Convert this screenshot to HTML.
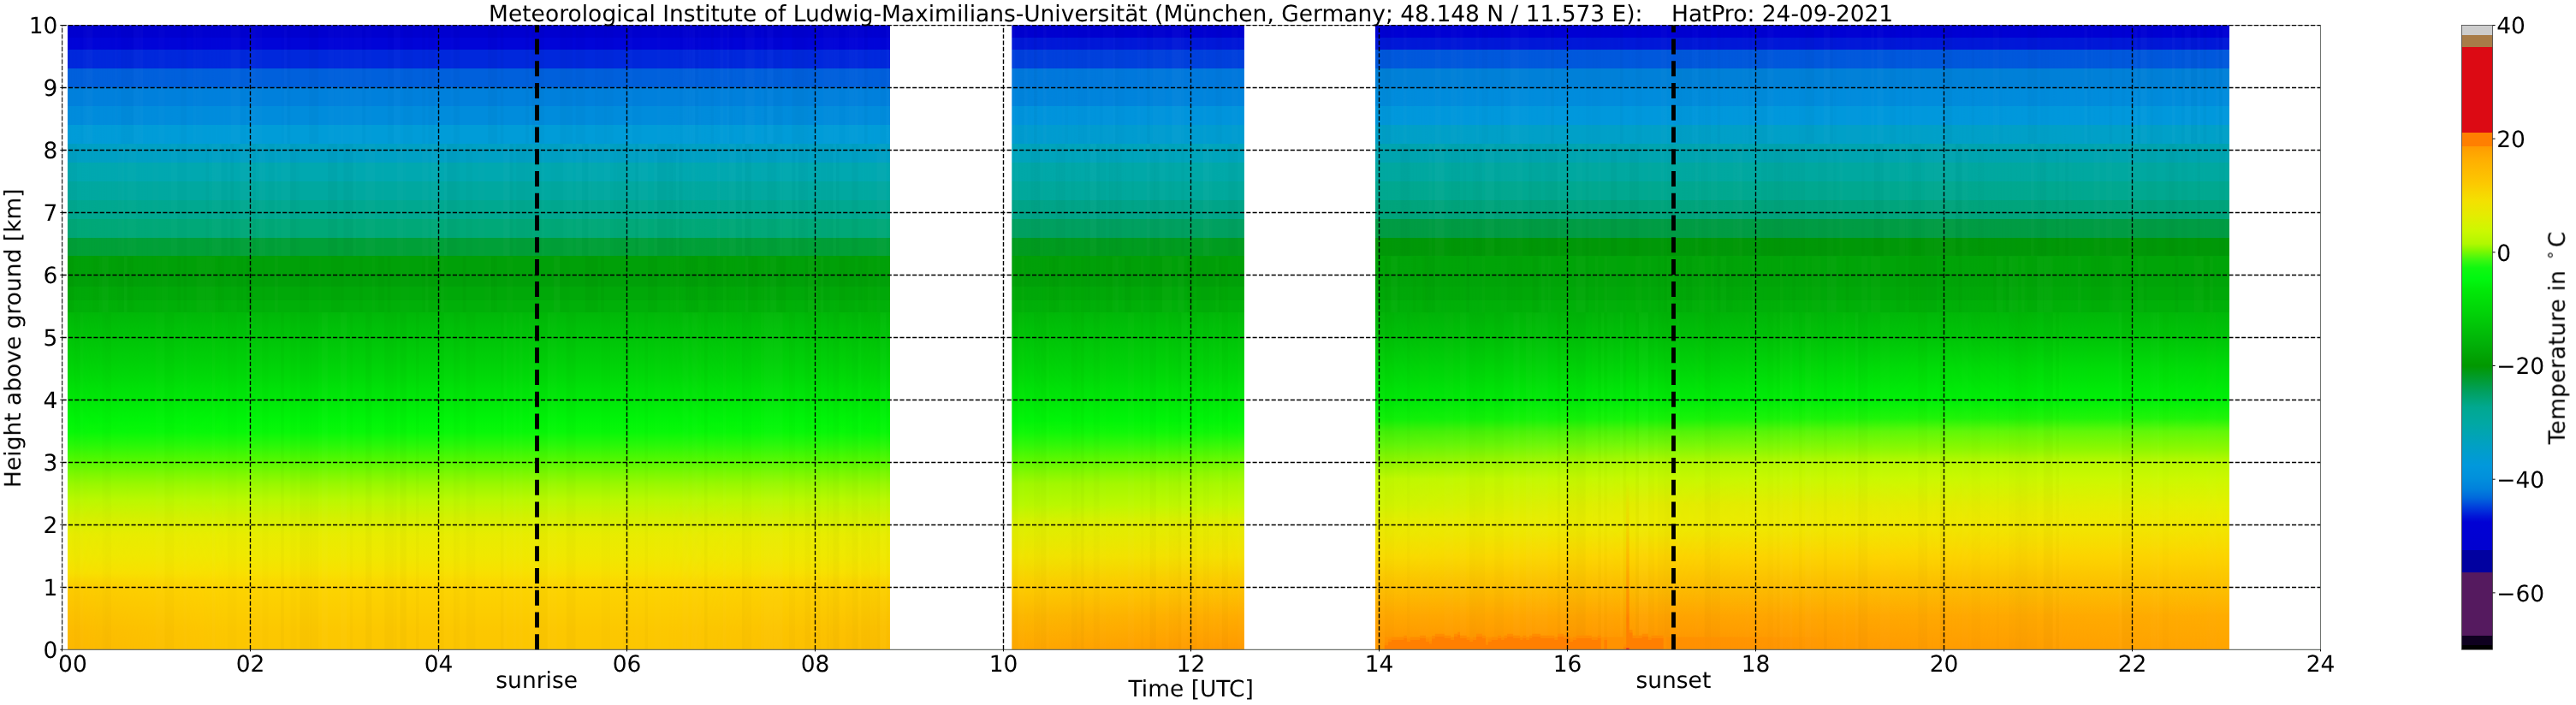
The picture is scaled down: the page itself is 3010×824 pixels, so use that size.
<!DOCTYPE html>
<html lang="en"><head><meta charset="utf-8"><title>HatPro temperature 24-09-2021</title>
<style>html,body{margin:0;padding:0;background:#fff}svg{display:block}text{fill:#000;white-space:pre;text-rendering:geometricPrecision}.tx{opacity:0.999}</style></head>
<body><svg width="3010" height="824" viewBox="0 0 3010 824">
<defs><linearGradient id="pA" gradientUnits="userSpaceOnUse" x1="0" y1="29.5" x2="0" y2="759.2"><stop offset="0.0000" stop-color="#0000d0"/><stop offset="0.0193" stop-color="#0000d0"/><stop offset="0.0193" stop-color="#0004d8"/><stop offset="0.0386" stop-color="#0004d8"/><stop offset="0.0386" stop-color="#0028dc"/><stop offset="0.0690" stop-color="#0028dc"/><stop offset="0.0690" stop-color="#0060dc"/><stop offset="0.1000" stop-color="#0060dc"/><stop offset="0.1000" stop-color="#0080dc"/><stop offset="0.1300" stop-color="#0080dc"/><stop offset="0.1300" stop-color="#008cdc"/><stop offset="0.1600" stop-color="#008cdc"/><stop offset="0.1600" stop-color="#009cd8"/><stop offset="0.1900" stop-color="#009cd8"/><stop offset="0.1900" stop-color="#00a0c4"/><stop offset="0.2200" stop-color="#00a0c4"/><stop offset="0.2200" stop-color="#00a8b0"/><stop offset="0.2500" stop-color="#00a8b0"/><stop offset="0.2500" stop-color="#00a8a0"/><stop offset="0.2800" stop-color="#00a8a0"/><stop offset="0.2800" stop-color="#00a890"/><stop offset="0.3100" stop-color="#00a890"/><stop offset="0.3100" stop-color="#00a878"/><stop offset="0.3400" stop-color="#00a878"/><stop offset="0.3400" stop-color="#00a038"/><stop offset="0.3700" stop-color="#00a038"/><stop offset="0.3700" stop-color="#00a008"/><stop offset="0.4190" stop-color="#00a008"/><stop offset="0.4190" stop-color="#00a808"/><stop offset="0.4400" stop-color="#00a808"/><stop offset="0.4400" stop-color="#00b008"/><stop offset="0.4600" stop-color="#00b008"/><stop offset="0.4602" stop-color="#00b808"/><stop offset="0.4995" stop-color="#00c408"/><stop offset="0.5489" stop-color="#00d408"/><stop offset="0.5996" stop-color="#00e808"/><stop offset="0.6311" stop-color="#00f408"/><stop offset="0.6516" stop-color="#08f808"/><stop offset="0.6722" stop-color="#28f808"/><stop offset="0.6996" stop-color="#58f800"/><stop offset="0.7160" stop-color="#78f800"/><stop offset="0.7339" stop-color="#98f800"/><stop offset="0.7613" stop-color="#bcf800"/><stop offset="0.7887" stop-color="#d4f000"/><stop offset="0.7996" stop-color="#dcf000"/><stop offset="0.8161" stop-color="#e8ec00"/><stop offset="0.8503" stop-color="#f0e800"/><stop offset="0.8778" stop-color="#f8e000"/><stop offset="0.8997" stop-color="#fcd400"/><stop offset="0.9326" stop-color="#fcce00"/><stop offset="0.9668" stop-color="#fcc800"/><stop offset="1.0000" stop-color="#fcc600"/></linearGradient><linearGradient id="pA0" gradientUnits="userSpaceOnUse" x1="0" y1="29.5" x2="0" y2="759.2"><stop offset="0.0000" stop-color="#0000d0"/><stop offset="0.0193" stop-color="#0000d0"/><stop offset="0.0193" stop-color="#0004d8"/><stop offset="0.0386" stop-color="#0004d8"/><stop offset="0.0386" stop-color="#0028dc"/><stop offset="0.0690" stop-color="#0028dc"/><stop offset="0.0690" stop-color="#0060dc"/><stop offset="0.1000" stop-color="#0060dc"/><stop offset="0.1000" stop-color="#0080dc"/><stop offset="0.1300" stop-color="#0080dc"/><stop offset="0.1300" stop-color="#008cdc"/><stop offset="0.1600" stop-color="#008cdc"/><stop offset="0.1600" stop-color="#009cd8"/><stop offset="0.1900" stop-color="#009cd8"/><stop offset="0.1900" stop-color="#00a0c4"/><stop offset="0.2200" stop-color="#00a0c4"/><stop offset="0.2200" stop-color="#00a8b0"/><stop offset="0.2500" stop-color="#00a8b0"/><stop offset="0.2500" stop-color="#00a8a0"/><stop offset="0.2800" stop-color="#00a8a0"/><stop offset="0.2800" stop-color="#00a890"/><stop offset="0.3100" stop-color="#00a890"/><stop offset="0.3100" stop-color="#00a878"/><stop offset="0.3400" stop-color="#00a878"/><stop offset="0.3400" stop-color="#00a038"/><stop offset="0.3700" stop-color="#00a038"/><stop offset="0.3700" stop-color="#00a008"/><stop offset="0.4190" stop-color="#00a008"/><stop offset="0.4190" stop-color="#00a808"/><stop offset="0.4400" stop-color="#00a808"/><stop offset="0.4400" stop-color="#00b008"/><stop offset="0.4600" stop-color="#00b008"/><stop offset="0.4602" stop-color="#00b808"/><stop offset="0.4995" stop-color="#00c408"/><stop offset="0.5489" stop-color="#00d408"/><stop offset="0.5996" stop-color="#00e808"/><stop offset="0.6311" stop-color="#00f408"/><stop offset="0.6516" stop-color="#08f808"/><stop offset="0.6722" stop-color="#28f808"/><stop offset="0.6996" stop-color="#58f800"/><stop offset="0.7160" stop-color="#78f800"/><stop offset="0.7339" stop-color="#98f800"/><stop offset="0.7613" stop-color="#bcf800"/><stop offset="0.7887" stop-color="#d4f000"/><stop offset="0.7996" stop-color="#dcf000"/><stop offset="0.8161" stop-color="#e8ec00"/><stop offset="0.8503" stop-color="#f0e800"/><stop offset="0.8778" stop-color="#f8e000"/><stop offset="0.8997" stop-color="#fccc00"/><stop offset="0.9326" stop-color="#fcc400"/><stop offset="0.9668" stop-color="#fcbc00"/><stop offset="1.0000" stop-color="#fcb800"/></linearGradient><linearGradient id="pA2" gradientUnits="userSpaceOnUse" x1="0" y1="29.5" x2="0" y2="759.2"><stop offset="0.0000" stop-color="#0000d0"/><stop offset="0.0193" stop-color="#0000d0"/><stop offset="0.0193" stop-color="#0004d8"/><stop offset="0.0386" stop-color="#0004d8"/><stop offset="0.0386" stop-color="#0028dc"/><stop offset="0.0690" stop-color="#0028dc"/><stop offset="0.0690" stop-color="#0060dc"/><stop offset="0.1000" stop-color="#0060dc"/><stop offset="0.1000" stop-color="#0080dc"/><stop offset="0.1300" stop-color="#0080dc"/><stop offset="0.1300" stop-color="#008cdc"/><stop offset="0.1600" stop-color="#008cdc"/><stop offset="0.1600" stop-color="#009cd8"/><stop offset="0.1900" stop-color="#009cd8"/><stop offset="0.1900" stop-color="#00a0c4"/><stop offset="0.2200" stop-color="#00a0c4"/><stop offset="0.2200" stop-color="#00a8b0"/><stop offset="0.2500" stop-color="#00a8b0"/><stop offset="0.2500" stop-color="#00a8a0"/><stop offset="0.2800" stop-color="#00a8a0"/><stop offset="0.2800" stop-color="#00a890"/><stop offset="0.3100" stop-color="#00a890"/><stop offset="0.3100" stop-color="#00a878"/><stop offset="0.3400" stop-color="#00a878"/><stop offset="0.3400" stop-color="#00a038"/><stop offset="0.3700" stop-color="#00a038"/><stop offset="0.3700" stop-color="#00a008"/><stop offset="0.4190" stop-color="#00a008"/><stop offset="0.4190" stop-color="#00a808"/><stop offset="0.4400" stop-color="#00a808"/><stop offset="0.4400" stop-color="#00b008"/><stop offset="0.4600" stop-color="#00b008"/><stop offset="0.4602" stop-color="#00b808"/><stop offset="0.4995" stop-color="#00c408"/><stop offset="0.5489" stop-color="#00d408"/><stop offset="0.5996" stop-color="#00e808"/><stop offset="0.6311" stop-color="#00f408"/><stop offset="0.6516" stop-color="#08f808"/><stop offset="0.6722" stop-color="#28f808"/><stop offset="0.6996" stop-color="#58f800"/><stop offset="0.7160" stop-color="#78f800"/><stop offset="0.7339" stop-color="#98f800"/><stop offset="0.7613" stop-color="#bcf800"/><stop offset="0.7887" stop-color="#d4f000"/><stop offset="0.7996" stop-color="#dcf000"/><stop offset="0.8161" stop-color="#e8ec00"/><stop offset="0.8503" stop-color="#f0e800"/><stop offset="0.8778" stop-color="#f8e000"/><stop offset="0.8997" stop-color="#fcd000"/><stop offset="0.9326" stop-color="#fcc800"/><stop offset="0.9668" stop-color="#fcc000"/><stop offset="1.0000" stop-color="#fcbc00"/></linearGradient><linearGradient id="pB1" gradientUnits="userSpaceOnUse" x1="0" y1="29.5" x2="0" y2="759.2"><stop offset="0.0000" stop-color="#0000d0"/><stop offset="0.0193" stop-color="#0000d0"/><stop offset="0.0193" stop-color="#0018d8"/><stop offset="0.0386" stop-color="#0018d8"/><stop offset="0.0386" stop-color="#0040dc"/><stop offset="0.0690" stop-color="#0040dc"/><stop offset="0.0690" stop-color="#0078dc"/><stop offset="0.1000" stop-color="#0078dc"/><stop offset="0.1000" stop-color="#0084dc"/><stop offset="0.1300" stop-color="#0084dc"/><stop offset="0.1300" stop-color="#0094dc"/><stop offset="0.1600" stop-color="#0094dc"/><stop offset="0.1600" stop-color="#009cd0"/><stop offset="0.1900" stop-color="#009cd0"/><stop offset="0.1900" stop-color="#00a4bc"/><stop offset="0.2200" stop-color="#00a4bc"/><stop offset="0.2200" stop-color="#00a8a8"/><stop offset="0.2500" stop-color="#00a8a8"/><stop offset="0.2500" stop-color="#00a89c"/><stop offset="0.2800" stop-color="#00a89c"/><stop offset="0.2800" stop-color="#00a488"/><stop offset="0.3100" stop-color="#00a488"/><stop offset="0.3100" stop-color="#00a060"/><stop offset="0.3400" stop-color="#00a060"/><stop offset="0.3400" stop-color="#009c20"/><stop offset="0.3700" stop-color="#009c20"/><stop offset="0.3700" stop-color="#00a008"/><stop offset="0.4190" stop-color="#00a008"/><stop offset="0.4190" stop-color="#00a808"/><stop offset="0.4400" stop-color="#00a808"/><stop offset="0.4400" stop-color="#00b008"/><stop offset="0.4600" stop-color="#00b008"/><stop offset="0.4602" stop-color="#00b808"/><stop offset="0.4995" stop-color="#00c408"/><stop offset="0.5489" stop-color="#00d408"/><stop offset="0.5996" stop-color="#00e808"/><stop offset="0.6311" stop-color="#00f408"/><stop offset="0.6516" stop-color="#10f808"/><stop offset="0.6722" stop-color="#30f808"/><stop offset="0.6996" stop-color="#60f800"/><stop offset="0.7160" stop-color="#80f800"/><stop offset="0.7339" stop-color="#a0f800"/><stop offset="0.7681" stop-color="#b8f800"/><stop offset="0.7996" stop-color="#dcf000"/><stop offset="0.8503" stop-color="#f0e400"/><stop offset="0.8997" stop-color="#fccc00"/><stop offset="0.9463" stop-color="#fcb800"/><stop offset="1.0000" stop-color="#ffa800"/></linearGradient><linearGradient id="pB2" gradientUnits="userSpaceOnUse" x1="0" y1="29.5" x2="0" y2="759.2"><stop offset="0.0000" stop-color="#0000d0"/><stop offset="0.0193" stop-color="#0000d0"/><stop offset="0.0193" stop-color="#0018d8"/><stop offset="0.0386" stop-color="#0018d8"/><stop offset="0.0386" stop-color="#0040dc"/><stop offset="0.0690" stop-color="#0040dc"/><stop offset="0.0690" stop-color="#0078dc"/><stop offset="0.1000" stop-color="#0078dc"/><stop offset="0.1000" stop-color="#0084dc"/><stop offset="0.1300" stop-color="#0084dc"/><stop offset="0.1300" stop-color="#0094dc"/><stop offset="0.1600" stop-color="#0094dc"/><stop offset="0.1600" stop-color="#009cd0"/><stop offset="0.1900" stop-color="#009cd0"/><stop offset="0.1900" stop-color="#00a4bc"/><stop offset="0.2200" stop-color="#00a4bc"/><stop offset="0.2200" stop-color="#00a8a8"/><stop offset="0.2500" stop-color="#00a8a8"/><stop offset="0.2500" stop-color="#00a89c"/><stop offset="0.2800" stop-color="#00a89c"/><stop offset="0.2800" stop-color="#00a488"/><stop offset="0.3100" stop-color="#00a488"/><stop offset="0.3100" stop-color="#00a060"/><stop offset="0.3400" stop-color="#00a060"/><stop offset="0.3400" stop-color="#009c20"/><stop offset="0.3700" stop-color="#009c20"/><stop offset="0.3700" stop-color="#00a008"/><stop offset="0.4190" stop-color="#00a008"/><stop offset="0.4190" stop-color="#00a808"/><stop offset="0.4400" stop-color="#00a808"/><stop offset="0.4400" stop-color="#00b008"/><stop offset="0.4600" stop-color="#00b008"/><stop offset="0.4602" stop-color="#00b808"/><stop offset="0.4995" stop-color="#00c408"/><stop offset="0.5489" stop-color="#00d408"/><stop offset="0.5996" stop-color="#00e808"/><stop offset="0.6311" stop-color="#00f408"/><stop offset="0.6516" stop-color="#10f808"/><stop offset="0.6722" stop-color="#38f808"/><stop offset="0.6996" stop-color="#70f800"/><stop offset="0.7160" stop-color="#90f800"/><stop offset="0.7339" stop-color="#a8f800"/><stop offset="0.7681" stop-color="#c4f800"/><stop offset="0.7996" stop-color="#e4ec00"/><stop offset="0.8503" stop-color="#f4e000"/><stop offset="0.8997" stop-color="#fcc400"/><stop offset="0.9463" stop-color="#ffac00"/><stop offset="1.0000" stop-color="#ff9800"/></linearGradient><linearGradient id="pC1" gradientUnits="userSpaceOnUse" x1="0" y1="29.5" x2="0" y2="759.2"><stop offset="0.0000" stop-color="#0000d4"/><stop offset="0.0193" stop-color="#0000d4"/><stop offset="0.0193" stop-color="#0018d8"/><stop offset="0.0386" stop-color="#0018d8"/><stop offset="0.0386" stop-color="#0058dc"/><stop offset="0.0690" stop-color="#0058dc"/><stop offset="0.0690" stop-color="#0080d8"/><stop offset="0.1000" stop-color="#0080d8"/><stop offset="0.1000" stop-color="#008cdc"/><stop offset="0.1300" stop-color="#008cdc"/><stop offset="0.1300" stop-color="#0098dc"/><stop offset="0.1600" stop-color="#0098dc"/><stop offset="0.1600" stop-color="#00a0c8"/><stop offset="0.1900" stop-color="#00a0c8"/><stop offset="0.1900" stop-color="#00a4b0"/><stop offset="0.2200" stop-color="#00a4b0"/><stop offset="0.2200" stop-color="#00a8a0"/><stop offset="0.2500" stop-color="#00a8a0"/><stop offset="0.2500" stop-color="#00a890"/><stop offset="0.2800" stop-color="#00a890"/><stop offset="0.2800" stop-color="#00a47c"/><stop offset="0.3100" stop-color="#00a47c"/><stop offset="0.3100" stop-color="#009c44"/><stop offset="0.3400" stop-color="#009c44"/><stop offset="0.3400" stop-color="#009808"/><stop offset="0.3700" stop-color="#009808"/><stop offset="0.3700" stop-color="#00a408"/><stop offset="0.4190" stop-color="#00a408"/><stop offset="0.4190" stop-color="#00a808"/><stop offset="0.4400" stop-color="#00a808"/><stop offset="0.4400" stop-color="#00b008"/><stop offset="0.4600" stop-color="#00b008"/><stop offset="0.4602" stop-color="#00b408"/><stop offset="0.4995" stop-color="#00c008"/><stop offset="0.5489" stop-color="#00d408"/><stop offset="0.5996" stop-color="#00e808"/><stop offset="0.6311" stop-color="#10f008"/><stop offset="0.6503" stop-color="#40f008"/><stop offset="0.6722" stop-color="#60f408"/><stop offset="0.6996" stop-color="#90f400"/><stop offset="0.7270" stop-color="#c0f800"/><stop offset="0.7681" stop-color="#d0f400"/><stop offset="0.7996" stop-color="#e8ec00"/><stop offset="0.8503" stop-color="#f8dc00"/><stop offset="0.8997" stop-color="#fcc000"/><stop offset="0.9463" stop-color="#ffa800"/><stop offset="0.9764" stop-color="#ff9c00"/><stop offset="1.0000" stop-color="#ff9800"/></linearGradient><linearGradient id="pC2" gradientUnits="userSpaceOnUse" x1="0" y1="29.5" x2="0" y2="759.2"><stop offset="0.0000" stop-color="#0000d4"/><stop offset="0.0193" stop-color="#0000d4"/><stop offset="0.0193" stop-color="#0018d8"/><stop offset="0.0386" stop-color="#0018d8"/><stop offset="0.0386" stop-color="#0058dc"/><stop offset="0.0690" stop-color="#0058dc"/><stop offset="0.0690" stop-color="#0080d8"/><stop offset="0.1000" stop-color="#0080d8"/><stop offset="0.1000" stop-color="#008cdc"/><stop offset="0.1300" stop-color="#008cdc"/><stop offset="0.1300" stop-color="#0098dc"/><stop offset="0.1600" stop-color="#0098dc"/><stop offset="0.1600" stop-color="#00a0c8"/><stop offset="0.1900" stop-color="#00a0c8"/><stop offset="0.1900" stop-color="#00a4b0"/><stop offset="0.2200" stop-color="#00a4b0"/><stop offset="0.2200" stop-color="#00a8a0"/><stop offset="0.2500" stop-color="#00a8a0"/><stop offset="0.2500" stop-color="#00a890"/><stop offset="0.2800" stop-color="#00a890"/><stop offset="0.2800" stop-color="#00a47c"/><stop offset="0.3100" stop-color="#00a47c"/><stop offset="0.3100" stop-color="#009c44"/><stop offset="0.3400" stop-color="#009c44"/><stop offset="0.3400" stop-color="#009808"/><stop offset="0.3700" stop-color="#009808"/><stop offset="0.3700" stop-color="#00a408"/><stop offset="0.4190" stop-color="#00a408"/><stop offset="0.4190" stop-color="#00a808"/><stop offset="0.4400" stop-color="#00a808"/><stop offset="0.4400" stop-color="#00b008"/><stop offset="0.4600" stop-color="#00b008"/><stop offset="0.4602" stop-color="#00b408"/><stop offset="0.4995" stop-color="#00c008"/><stop offset="0.5489" stop-color="#00d408"/><stop offset="0.5996" stop-color="#00ec08"/><stop offset="0.6311" stop-color="#18f408"/><stop offset="0.6503" stop-color="#50f408"/><stop offset="0.6722" stop-color="#78f808"/><stop offset="0.6996" stop-color="#b0f800"/><stop offset="0.7270" stop-color="#c8f800"/><stop offset="0.7681" stop-color="#e4ec00"/><stop offset="0.7996" stop-color="#ecec00"/><stop offset="0.8503" stop-color="#fcd400"/><stop offset="0.8997" stop-color="#fcbc00"/><stop offset="0.9463" stop-color="#ffa400"/><stop offset="0.9764" stop-color="#ff9a00"/><stop offset="1.0000" stop-color="#ff9600"/></linearGradient><linearGradient id="pC3" gradientUnits="userSpaceOnUse" x1="0" y1="29.5" x2="0" y2="759.2"><stop offset="0.0000" stop-color="#0000d4"/><stop offset="0.0193" stop-color="#0000d4"/><stop offset="0.0193" stop-color="#0018d8"/><stop offset="0.0386" stop-color="#0018d8"/><stop offset="0.0386" stop-color="#0058dc"/><stop offset="0.0690" stop-color="#0058dc"/><stop offset="0.0690" stop-color="#0080d8"/><stop offset="0.1000" stop-color="#0080d8"/><stop offset="0.1000" stop-color="#008cdc"/><stop offset="0.1300" stop-color="#008cdc"/><stop offset="0.1300" stop-color="#0098dc"/><stop offset="0.1600" stop-color="#0098dc"/><stop offset="0.1600" stop-color="#00a0c8"/><stop offset="0.1900" stop-color="#00a0c8"/><stop offset="0.1900" stop-color="#00a4b0"/><stop offset="0.2200" stop-color="#00a4b0"/><stop offset="0.2200" stop-color="#00a8a0"/><stop offset="0.2500" stop-color="#00a8a0"/><stop offset="0.2500" stop-color="#00a890"/><stop offset="0.2800" stop-color="#00a890"/><stop offset="0.2800" stop-color="#00a47c"/><stop offset="0.3100" stop-color="#00a47c"/><stop offset="0.3100" stop-color="#009c44"/><stop offset="0.3400" stop-color="#009c44"/><stop offset="0.3400" stop-color="#009808"/><stop offset="0.3700" stop-color="#009808"/><stop offset="0.3700" stop-color="#00a408"/><stop offset="0.4190" stop-color="#00a408"/><stop offset="0.4190" stop-color="#00a808"/><stop offset="0.4400" stop-color="#00a808"/><stop offset="0.4400" stop-color="#00b008"/><stop offset="0.4600" stop-color="#00b008"/><stop offset="0.4602" stop-color="#00b808"/><stop offset="0.4995" stop-color="#00c408"/><stop offset="0.5489" stop-color="#00dc08"/><stop offset="0.5996" stop-color="#00f008"/><stop offset="0.6297" stop-color="#20f408"/><stop offset="0.6503" stop-color="#60f808"/><stop offset="0.6804" stop-color="#90f800"/><stop offset="0.6996" stop-color="#b8f800"/><stop offset="0.7270" stop-color="#ccf800"/><stop offset="0.7681" stop-color="#e4ec00"/><stop offset="0.7996" stop-color="#f0e800"/><stop offset="0.8503" stop-color="#fcd400"/><stop offset="0.8997" stop-color="#fcbc00"/><stop offset="0.9463" stop-color="#ffa800"/><stop offset="1.0000" stop-color="#ff9c00"/></linearGradient><linearGradient id="pC4" gradientUnits="userSpaceOnUse" x1="0" y1="29.5" x2="0" y2="759.2"><stop offset="0.0000" stop-color="#0000d4"/><stop offset="0.0193" stop-color="#0000d4"/><stop offset="0.0193" stop-color="#0018d8"/><stop offset="0.0386" stop-color="#0018d8"/><stop offset="0.0386" stop-color="#0058dc"/><stop offset="0.0690" stop-color="#0058dc"/><stop offset="0.0690" stop-color="#0080d8"/><stop offset="0.1000" stop-color="#0080d8"/><stop offset="0.1000" stop-color="#008cdc"/><stop offset="0.1300" stop-color="#008cdc"/><stop offset="0.1300" stop-color="#0098dc"/><stop offset="0.1600" stop-color="#0098dc"/><stop offset="0.1600" stop-color="#00a0c8"/><stop offset="0.1900" stop-color="#00a0c8"/><stop offset="0.1900" stop-color="#00a4b0"/><stop offset="0.2200" stop-color="#00a4b0"/><stop offset="0.2200" stop-color="#00a8a0"/><stop offset="0.2500" stop-color="#00a8a0"/><stop offset="0.2500" stop-color="#00a890"/><stop offset="0.2800" stop-color="#00a890"/><stop offset="0.2800" stop-color="#00a47c"/><stop offset="0.3100" stop-color="#00a47c"/><stop offset="0.3100" stop-color="#009c44"/><stop offset="0.3400" stop-color="#009c44"/><stop offset="0.3400" stop-color="#009808"/><stop offset="0.3700" stop-color="#009808"/><stop offset="0.3700" stop-color="#00a408"/><stop offset="0.4190" stop-color="#00a408"/><stop offset="0.4190" stop-color="#00a808"/><stop offset="0.4400" stop-color="#00a808"/><stop offset="0.4400" stop-color="#00b008"/><stop offset="0.4600" stop-color="#00b008"/><stop offset="0.4602" stop-color="#00b808"/><stop offset="0.4995" stop-color="#00c408"/><stop offset="0.5489" stop-color="#00dc08"/><stop offset="0.5996" stop-color="#00f008"/><stop offset="0.6297" stop-color="#20f408"/><stop offset="0.6503" stop-color="#60f808"/><stop offset="0.6804" stop-color="#90f800"/><stop offset="0.6996" stop-color="#b8f800"/><stop offset="0.7270" stop-color="#ccf800"/><stop offset="0.7681" stop-color="#e4f000"/><stop offset="0.7996" stop-color="#f0e800"/><stop offset="0.8503" stop-color="#fcd400"/><stop offset="0.8997" stop-color="#fcc000"/><stop offset="0.9463" stop-color="#ffac00"/><stop offset="1.0000" stop-color="#ffa400"/></linearGradient><linearGradient id="mg1" gradientUnits="userSpaceOnUse" x1="79.00" y1="0" x2="270.00" y2="0"><stop offset="0" stop-color="#000"/><stop offset="1" stop-color="#fff"/></linearGradient><mask id="m1" maskUnits="userSpaceOnUse" x="79.00" y="29.5" width="191.00" height="729.70"><rect x="79.00" y="29.5" width="191.00" height="729.70" fill="url(#mg1)"/></mask><linearGradient id="mg2" gradientUnits="userSpaceOnUse" x1="780.00" y1="0" x2="1040.00" y2="0"><stop offset="0" stop-color="#000"/><stop offset="1" stop-color="#fff"/></linearGradient><mask id="m2" maskUnits="userSpaceOnUse" x="780.00" y="29.5" width="260.00" height="729.70"><rect x="780.00" y="29.5" width="260.00" height="729.70" fill="url(#mg2)"/></mask><linearGradient id="mg3" gradientUnits="userSpaceOnUse" x1="1182.30" y1="0" x2="1453.80" y2="0"><stop offset="0" stop-color="#000"/><stop offset="1" stop-color="#fff"/></linearGradient><mask id="m3" maskUnits="userSpaceOnUse" x="1182.30" y="29.5" width="271.50" height="729.70"><rect x="1182.30" y="29.5" width="271.50" height="729.70" fill="url(#mg3)"/></mask><linearGradient id="mg4" gradientUnits="userSpaceOnUse" x1="1607.00" y1="0" x2="1940.00" y2="0"><stop offset="0" stop-color="#000"/><stop offset="1" stop-color="#fff"/></linearGradient><mask id="m4" maskUnits="userSpaceOnUse" x="1607.00" y="29.5" width="333.00" height="729.70"><rect x="1607.00" y="29.5" width="333.00" height="729.70" fill="url(#mg4)"/></mask><linearGradient id="mg5" gradientUnits="userSpaceOnUse" x1="1940.00" y1="0" x2="2270.00" y2="0"><stop offset="0" stop-color="#000"/><stop offset="1" stop-color="#fff"/></linearGradient><mask id="m5" maskUnits="userSpaceOnUse" x="1940.00" y="29.5" width="330.00" height="729.70"><rect x="1940.00" y="29.5" width="330.00" height="729.70" fill="url(#mg5)"/></mask><linearGradient id="mg6" gradientUnits="userSpaceOnUse" x1="2270.00" y1="0" x2="2604.80" y2="0"><stop offset="0" stop-color="#000"/><stop offset="1" stop-color="#fff"/></linearGradient><mask id="m6" maskUnits="userSpaceOnUse" x="2270.00" y="29.5" width="334.80" height="729.70"><rect x="2270.00" y="29.5" width="334.80" height="729.70" fill="url(#mg6)"/></mask><linearGradient id="stk" gradientUnits="userSpaceOnUse" x1="0" y1="560" x2="0" y2="759.2"><stop offset="0" stop-color="#ff8000" stop-opacity="0"/><stop offset="0.5" stop-color="#ff8000" stop-opacity="0.35"/><stop offset="0.78" stop-color="#ff8000" stop-opacity="0.75"/><stop offset="0.815" stop-color="#ff8000" stop-opacity="1"/><stop offset="1" stop-color="#ff7f00"/></linearGradient><linearGradient id="fade" gradientUnits="userSpaceOnUse" x1="1947" y1="0" x2="2150" y2="0"><stop offset="0" stop-color="#ff8e00" stop-opacity="0.9"/><stop offset="0.5" stop-color="#ff8e00" stop-opacity="0.45"/><stop offset="1" stop-color="#ff8e00" stop-opacity="0"/></linearGradient><linearGradient id="pcb" gradientUnits="userSpaceOnUse" x1="0" y1="29.5" x2="0" y2="759.2"><stop offset="0.0000" stop-color="#cdcdcd"/><stop offset="0.0158" stop-color="#cdcdcd"/><stop offset="0.0158" stop-color="#a87c48"/><stop offset="0.0349" stop-color="#a87c48"/><stop offset="0.0349" stop-color="#dc0a14"/><stop offset="0.1714" stop-color="#dc0a14"/><stop offset="0.1714" stop-color="#ff7f00"/><stop offset="0.1946" stop-color="#ff7f00"/><stop offset="0.1946" stop-color="#ff9c00"/><stop offset="0.2172" stop-color="#ffb000"/><stop offset="0.2528" stop-color="#fcc800"/><stop offset="0.2803" stop-color="#f4e000"/><stop offset="0.3049" stop-color="#e4ec00"/><stop offset="0.3296" stop-color="#ccf800"/><stop offset="0.3501" stop-color="#b0f800"/><stop offset="0.3611" stop-color="#80f800"/><stop offset="0.3748" stop-color="#40f810"/><stop offset="0.3885" stop-color="#10f810"/><stop offset="0.4056" stop-color="#00f810"/><stop offset="0.4255" stop-color="#00e808"/><stop offset="0.4584" stop-color="#00d408"/><stop offset="0.5105" stop-color="#00b008"/><stop offset="0.5456" stop-color="#009800"/><stop offset="0.5667" stop-color="#009c30"/><stop offset="0.5872" stop-color="#00a060"/><stop offset="0.6119" stop-color="#00a890"/><stop offset="0.6386" stop-color="#00a8a4"/><stop offset="0.6736" stop-color="#00a0c4"/><stop offset="0.7051" stop-color="#0098dc"/><stop offset="0.7256" stop-color="#0090dc"/><stop offset="0.7435" stop-color="#0080dc"/><stop offset="0.7572" stop-color="#0068dc"/><stop offset="0.7715" stop-color="#0040dc"/><stop offset="0.7857" stop-color="#0018d8"/><stop offset="0.7961" stop-color="#0000d4"/><stop offset="0.8405" stop-color="#0000d0"/><stop offset="0.8405" stop-color="#0000a0"/><stop offset="0.8765" stop-color="#0000a0"/><stop offset="0.8765" stop-color="#551a5f"/><stop offset="0.9773" stop-color="#551a5f"/><stop offset="0.9773" stop-color="#0f0020"/><stop offset="0.9925" stop-color="#0f0020"/><stop offset="0.9925" stop-color="#000"/><stop offset="1.0000" stop-color="#000"/></linearGradient><clipPath id="axclip"><rect x="72.14999999999999" y="29.1" width="2639.25" height="730.10"/></clipPath></defs>
<rect width="3010" height="824" fill="#fff"/>
<g id="axes0"><path d="M72.55 759.2V29.5H2711.4" fill="none" stroke="#bdbdbd" stroke-width="0.9"/></g>
<g id="heat"><rect x="79.00" y="29.5" width="191.00" height="729.70" fill="url(#pA0)"/><rect x="79.00" y="29.5" width="191.00" height="729.70" fill="url(#pA)" mask="url(#m1)"/><rect x="270.00" y="29.5" width="510.00" height="729.70" fill="url(#pA)"/><rect x="780.00" y="29.5" width="260.00" height="729.70" fill="url(#pA)"/><rect x="780.00" y="29.5" width="260.00" height="729.70" fill="url(#pA2)" mask="url(#m2)"/><rect x="1182.30" y="29.5" width="271.50" height="729.70" fill="url(#pB1)"/><rect x="1182.30" y="29.5" width="271.50" height="729.70" fill="url(#pB2)" mask="url(#m3)"/><rect x="1607.00" y="29.5" width="333.00" height="729.70" fill="url(#pC1)"/><rect x="1607.00" y="29.5" width="333.00" height="729.70" fill="url(#pC2)" mask="url(#m4)"/><rect x="1940.00" y="29.5" width="330.00" height="729.70" fill="url(#pC2)"/><rect x="1940.00" y="29.5" width="330.00" height="729.70" fill="url(#pC3)" mask="url(#m5)"/><rect x="2270.00" y="29.5" width="334.80" height="729.70" fill="url(#pC3)"/><rect x="2270.00" y="29.5" width="334.80" height="729.70" fill="url(#pC4)" mask="url(#m6)"/><rect x="93.7" y="29.5" width="3.7" height="138.6" fill="#000" fill-opacity="0.007"/><rect x="97.3" y="29.5" width="3.7" height="138.6" fill="#fff" fill-opacity="0.013"/><rect x="101.0" y="29.5" width="7.3" height="138.6" fill="#fff" fill-opacity="0.019"/><rect x="134.0" y="29.5" width="3.7" height="138.6" fill="#fff" fill-opacity="0.008"/><rect x="141.3" y="29.5" width="11.0" height="138.6" fill="#000" fill-opacity="0.015"/><rect x="152.3" y="29.5" width="3.7" height="138.6" fill="#000" fill-opacity="0.017"/><rect x="156.0" y="29.5" width="7.3" height="138.6" fill="#fff" fill-opacity="0.017"/><rect x="163.3" y="29.5" width="3.7" height="138.6" fill="#fff" fill-opacity="0.021"/><rect x="185.3" y="29.5" width="7.3" height="138.6" fill="#fff" fill-opacity="0.011"/><rect x="210.9" y="29.5" width="7.3" height="138.6" fill="#000" fill-opacity="0.017"/><rect x="225.6" y="29.5" width="3.7" height="138.6" fill="#fff" fill-opacity="0.012"/><rect x="229.3" y="29.5" width="7.3" height="138.6" fill="#fff" fill-opacity="0.007"/><rect x="269.6" y="29.5" width="11.0" height="138.6" fill="#fff" fill-opacity="0.021"/><rect x="280.6" y="29.5" width="7.3" height="138.6" fill="#000" fill-opacity="0.007"/><rect x="291.6" y="29.5" width="7.3" height="138.6" fill="#fff" fill-opacity="0.020"/><rect x="298.9" y="29.5" width="7.3" height="138.6" fill="#fff" fill-opacity="0.010"/><rect x="328.2" y="29.5" width="3.7" height="138.6" fill="#000" fill-opacity="0.008"/><rect x="331.9" y="29.5" width="3.7" height="138.6" fill="#fff" fill-opacity="0.015"/><rect x="335.6" y="29.5" width="3.7" height="138.6" fill="#000" fill-opacity="0.015"/><rect x="361.2" y="29.5" width="11.0" height="138.6" fill="#000" fill-opacity="0.020"/><rect x="383.2" y="29.5" width="7.3" height="138.6" fill="#fff" fill-opacity="0.012"/><rect x="390.5" y="29.5" width="7.3" height="138.6" fill="#fff" fill-opacity="0.007"/><rect x="397.9" y="29.5" width="3.7" height="138.6" fill="#fff" fill-opacity="0.016"/><rect x="401.5" y="29.5" width="7.3" height="138.6" fill="#fff" fill-opacity="0.008"/><rect x="408.9" y="29.5" width="3.7" height="138.6" fill="#fff" fill-opacity="0.009"/><rect x="412.5" y="29.5" width="11.0" height="138.6" fill="#fff" fill-opacity="0.012"/><rect x="423.5" y="29.5" width="3.7" height="138.6" fill="#000" fill-opacity="0.014"/><rect x="427.2" y="29.5" width="7.3" height="138.6" fill="#fff" fill-opacity="0.007"/><rect x="452.8" y="29.5" width="7.3" height="138.6" fill="#000" fill-opacity="0.017"/><rect x="460.2" y="29.5" width="7.3" height="138.6" fill="#fff" fill-opacity="0.016"/><rect x="471.2" y="29.5" width="3.7" height="138.6" fill="#000" fill-opacity="0.010"/><rect x="474.8" y="29.5" width="7.3" height="138.6" fill="#000" fill-opacity="0.010"/><rect x="493.2" y="29.5" width="3.7" height="138.6" fill="#000" fill-opacity="0.014"/><rect x="500.5" y="29.5" width="7.3" height="138.6" fill="#000" fill-opacity="0.017"/><rect x="526.1" y="29.5" width="3.7" height="138.6" fill="#fff" fill-opacity="0.008"/><rect x="529.8" y="29.5" width="3.7" height="138.6" fill="#000" fill-opacity="0.016"/><rect x="533.5" y="29.5" width="3.7" height="138.6" fill="#000" fill-opacity="0.016"/><rect x="570.1" y="29.5" width="3.7" height="138.6" fill="#000" fill-opacity="0.021"/><rect x="573.8" y="29.5" width="7.3" height="138.6" fill="#000" fill-opacity="0.021"/><rect x="584.8" y="29.5" width="3.7" height="138.6" fill="#000" fill-opacity="0.020"/><rect x="614.1" y="29.5" width="3.7" height="138.6" fill="#000" fill-opacity="0.019"/><rect x="621.4" y="29.5" width="3.7" height="138.6" fill="#000" fill-opacity="0.020"/><rect x="625.1" y="29.5" width="3.7" height="138.6" fill="#000" fill-opacity="0.009"/><rect x="628.8" y="29.5" width="7.3" height="138.6" fill="#000" fill-opacity="0.015"/><rect x="654.4" y="29.5" width="7.3" height="138.6" fill="#000" fill-opacity="0.021"/><rect x="661.7" y="29.5" width="7.3" height="138.6" fill="#000" fill-opacity="0.014"/><rect x="672.7" y="29.5" width="3.7" height="138.6" fill="#000" fill-opacity="0.014"/><rect x="676.4" y="29.5" width="7.3" height="138.6" fill="#000" fill-opacity="0.017"/><rect x="694.7" y="29.5" width="3.7" height="138.6" fill="#000" fill-opacity="0.010"/><rect x="698.4" y="29.5" width="7.3" height="138.6" fill="#000" fill-opacity="0.006"/><rect x="705.7" y="29.5" width="3.7" height="138.6" fill="#000" fill-opacity="0.016"/><rect x="709.4" y="29.5" width="7.3" height="138.6" fill="#000" fill-opacity="0.010"/><rect x="735.0" y="29.5" width="3.7" height="138.6" fill="#fff" fill-opacity="0.012"/><rect x="738.7" y="29.5" width="11.0" height="138.6" fill="#000" fill-opacity="0.007"/><rect x="768.0" y="29.5" width="3.7" height="138.6" fill="#fff" fill-opacity="0.008"/><rect x="793.7" y="29.5" width="3.7" height="138.6" fill="#000" fill-opacity="0.013"/><rect x="797.4" y="29.5" width="3.7" height="138.6" fill="#fff" fill-opacity="0.012"/><rect x="801.0" y="29.5" width="3.7" height="138.6" fill="#fff" fill-opacity="0.015"/><rect x="804.7" y="29.5" width="3.7" height="138.6" fill="#fff" fill-opacity="0.014"/><rect x="808.3" y="29.5" width="3.7" height="138.6" fill="#fff" fill-opacity="0.021"/><rect x="812.0" y="29.5" width="3.7" height="138.6" fill="#000" fill-opacity="0.010"/><rect x="815.7" y="29.5" width="3.7" height="138.6" fill="#fff" fill-opacity="0.008"/><rect x="830.3" y="29.5" width="3.7" height="138.6" fill="#000" fill-opacity="0.015"/><rect x="841.3" y="29.5" width="3.7" height="138.6" fill="#fff" fill-opacity="0.019"/><rect x="845.0" y="29.5" width="3.7" height="138.6" fill="#fff" fill-opacity="0.006"/><rect x="848.7" y="29.5" width="3.7" height="138.6" fill="#fff" fill-opacity="0.020"/><rect x="852.3" y="29.5" width="3.7" height="138.6" fill="#000" fill-opacity="0.011"/><rect x="867.0" y="29.5" width="3.7" height="138.6" fill="#000" fill-opacity="0.009"/><rect x="870.7" y="29.5" width="11.0" height="138.6" fill="#fff" fill-opacity="0.018"/><rect x="889.0" y="29.5" width="3.7" height="138.6" fill="#fff" fill-opacity="0.006"/><rect x="892.6" y="29.5" width="3.7" height="138.6" fill="#000" fill-opacity="0.014"/><rect x="896.3" y="29.5" width="7.3" height="138.6" fill="#fff" fill-opacity="0.021"/><rect x="903.6" y="29.5" width="11.0" height="138.6" fill="#000" fill-opacity="0.014"/><rect x="925.6" y="29.5" width="3.7" height="138.6" fill="#000" fill-opacity="0.019"/><rect x="929.3" y="29.5" width="11.0" height="138.6" fill="#000" fill-opacity="0.022"/><rect x="940.3" y="29.5" width="3.7" height="138.6" fill="#000" fill-opacity="0.016"/><rect x="944.0" y="29.5" width="7.3" height="138.6" fill="#000" fill-opacity="0.007"/><rect x="962.3" y="29.5" width="11.0" height="138.6" fill="#fff" fill-opacity="0.013"/><rect x="973.3" y="29.5" width="7.3" height="138.6" fill="#fff" fill-opacity="0.012"/><rect x="980.6" y="29.5" width="7.3" height="138.6" fill="#000" fill-opacity="0.007"/><rect x="987.9" y="29.5" width="3.7" height="138.6" fill="#fff" fill-opacity="0.006"/><rect x="991.6" y="29.5" width="7.3" height="138.6" fill="#fff" fill-opacity="0.016"/><rect x="998.9" y="29.5" width="3.7" height="138.6" fill="#fff" fill-opacity="0.019"/><rect x="1002.6" y="29.5" width="7.3" height="138.6" fill="#fff" fill-opacity="0.006"/><rect x="1009.9" y="29.5" width="3.7" height="138.6" fill="#000" fill-opacity="0.021"/><rect x="1028.3" y="29.5" width="7.3" height="138.6" fill="#000" fill-opacity="0.011"/><rect x="1035.6" y="29.5" width="3.7" height="138.6" fill="#fff" fill-opacity="0.016"/><rect x="79.0" y="168.1" width="11.0" height="131.3" fill="#000" fill-opacity="0.017"/><rect x="137.6" y="168.1" width="3.7" height="131.3" fill="#fff" fill-opacity="0.008"/><rect x="141.3" y="168.1" width="3.7" height="131.3" fill="#fff" fill-opacity="0.013"/><rect x="148.6" y="168.1" width="11.0" height="131.3" fill="#fff" fill-opacity="0.010"/><rect x="178.0" y="168.1" width="7.3" height="131.3" fill="#fff" fill-opacity="0.007"/><rect x="199.9" y="168.1" width="7.3" height="131.3" fill="#fff" fill-opacity="0.012"/><rect x="207.3" y="168.1" width="11.0" height="131.3" fill="#000" fill-opacity="0.007"/><rect x="218.3" y="168.1" width="3.7" height="131.3" fill="#fff" fill-opacity="0.008"/><rect x="240.3" y="168.1" width="3.7" height="131.3" fill="#000" fill-opacity="0.014"/><rect x="247.6" y="168.1" width="11.0" height="131.3" fill="#fff" fill-opacity="0.017"/><rect x="258.6" y="168.1" width="7.3" height="131.3" fill="#000" fill-opacity="0.008"/><rect x="265.9" y="168.1" width="3.7" height="131.3" fill="#fff" fill-opacity="0.007"/><rect x="269.6" y="168.1" width="3.7" height="131.3" fill="#000" fill-opacity="0.019"/><rect x="280.6" y="168.1" width="7.3" height="131.3" fill="#fff" fill-opacity="0.021"/><rect x="287.9" y="168.1" width="7.3" height="131.3" fill="#fff" fill-opacity="0.018"/><rect x="295.2" y="168.1" width="3.7" height="131.3" fill="#000" fill-opacity="0.019"/><rect x="302.6" y="168.1" width="3.7" height="131.3" fill="#fff" fill-opacity="0.020"/><rect x="306.2" y="168.1" width="3.7" height="131.3" fill="#fff" fill-opacity="0.014"/><rect x="313.6" y="168.1" width="7.3" height="131.3" fill="#000" fill-opacity="0.011"/><rect x="320.9" y="168.1" width="3.7" height="131.3" fill="#fff" fill-opacity="0.011"/><rect x="328.2" y="168.1" width="11.0" height="131.3" fill="#fff" fill-opacity="0.012"/><rect x="339.2" y="168.1" width="7.3" height="131.3" fill="#000" fill-opacity="0.021"/><rect x="346.6" y="168.1" width="3.7" height="131.3" fill="#000" fill-opacity="0.007"/><rect x="383.2" y="168.1" width="11.0" height="131.3" fill="#000" fill-opacity="0.020"/><rect x="401.5" y="168.1" width="7.3" height="131.3" fill="#000" fill-opacity="0.018"/><rect x="408.9" y="168.1" width="3.7" height="131.3" fill="#000" fill-opacity="0.021"/><rect x="412.5" y="168.1" width="3.7" height="131.3" fill="#fff" fill-opacity="0.011"/><rect x="427.2" y="168.1" width="11.0" height="131.3" fill="#fff" fill-opacity="0.016"/><rect x="445.5" y="168.1" width="3.7" height="131.3" fill="#fff" fill-opacity="0.009"/><rect x="463.8" y="168.1" width="7.3" height="131.3" fill="#fff" fill-opacity="0.015"/><rect x="471.2" y="168.1" width="3.7" height="131.3" fill="#fff" fill-opacity="0.007"/><rect x="493.2" y="168.1" width="7.3" height="131.3" fill="#fff" fill-opacity="0.014"/><rect x="504.1" y="168.1" width="7.3" height="131.3" fill="#fff" fill-opacity="0.021"/><rect x="518.8" y="168.1" width="3.7" height="131.3" fill="#fff" fill-opacity="0.020"/><rect x="522.5" y="168.1" width="11.0" height="131.3" fill="#000" fill-opacity="0.021"/><rect x="533.5" y="168.1" width="3.7" height="131.3" fill="#000" fill-opacity="0.013"/><rect x="544.5" y="168.1" width="7.3" height="131.3" fill="#000" fill-opacity="0.012"/><rect x="559.1" y="168.1" width="7.3" height="131.3" fill="#fff" fill-opacity="0.008"/><rect x="588.4" y="168.1" width="7.3" height="131.3" fill="#fff" fill-opacity="0.018"/><rect x="595.8" y="168.1" width="3.7" height="131.3" fill="#000" fill-opacity="0.021"/><rect x="603.1" y="168.1" width="11.0" height="131.3" fill="#000" fill-opacity="0.016"/><rect x="614.1" y="168.1" width="3.7" height="131.3" fill="#000" fill-opacity="0.011"/><rect x="617.8" y="168.1" width="3.7" height="131.3" fill="#000" fill-opacity="0.010"/><rect x="625.1" y="168.1" width="7.3" height="131.3" fill="#000" fill-opacity="0.011"/><rect x="632.4" y="168.1" width="3.7" height="131.3" fill="#fff" fill-opacity="0.010"/><rect x="643.4" y="168.1" width="3.7" height="131.3" fill="#000" fill-opacity="0.009"/><rect x="647.1" y="168.1" width="11.0" height="131.3" fill="#000" fill-opacity="0.010"/><rect x="658.1" y="168.1" width="3.7" height="131.3" fill="#fff" fill-opacity="0.007"/><rect x="661.7" y="168.1" width="7.3" height="131.3" fill="#fff" fill-opacity="0.012"/><rect x="672.7" y="168.1" width="7.3" height="131.3" fill="#fff" fill-opacity="0.014"/><rect x="680.1" y="168.1" width="3.7" height="131.3" fill="#000" fill-opacity="0.010"/><rect x="683.7" y="168.1" width="3.7" height="131.3" fill="#000" fill-opacity="0.016"/><rect x="687.4" y="168.1" width="3.7" height="131.3" fill="#fff" fill-opacity="0.021"/><rect x="691.1" y="168.1" width="7.3" height="131.3" fill="#fff" fill-opacity="0.012"/><rect x="698.4" y="168.1" width="7.3" height="131.3" fill="#fff" fill-opacity="0.007"/><rect x="705.7" y="168.1" width="7.3" height="131.3" fill="#fff" fill-opacity="0.017"/><rect x="716.7" y="168.1" width="3.7" height="131.3" fill="#000" fill-opacity="0.009"/><rect x="720.4" y="168.1" width="11.0" height="131.3" fill="#000" fill-opacity="0.011"/><rect x="735.0" y="168.1" width="7.3" height="131.3" fill="#fff" fill-opacity="0.006"/><rect x="742.4" y="168.1" width="3.7" height="131.3" fill="#000" fill-opacity="0.020"/><rect x="746.0" y="168.1" width="3.7" height="131.3" fill="#fff" fill-opacity="0.018"/><rect x="749.7" y="168.1" width="7.3" height="131.3" fill="#fff" fill-opacity="0.017"/><rect x="764.4" y="168.1" width="3.7" height="131.3" fill="#fff" fill-opacity="0.018"/><rect x="768.0" y="168.1" width="11.0" height="131.3" fill="#000" fill-opacity="0.019"/><rect x="779.0" y="168.1" width="3.7" height="131.3" fill="#000" fill-opacity="0.013"/><rect x="782.7" y="168.1" width="3.7" height="131.3" fill="#000" fill-opacity="0.018"/><rect x="786.4" y="168.1" width="3.7" height="131.3" fill="#000" fill-opacity="0.011"/><rect x="790.0" y="168.1" width="3.7" height="131.3" fill="#fff" fill-opacity="0.017"/><rect x="793.7" y="168.1" width="3.7" height="131.3" fill="#000" fill-opacity="0.018"/><rect x="808.3" y="168.1" width="3.7" height="131.3" fill="#fff" fill-opacity="0.010"/><rect x="837.7" y="168.1" width="3.7" height="131.3" fill="#fff" fill-opacity="0.021"/><rect x="852.3" y="168.1" width="7.3" height="131.3" fill="#fff" fill-opacity="0.020"/><rect x="859.7" y="168.1" width="7.3" height="131.3" fill="#000" fill-opacity="0.009"/><rect x="867.0" y="168.1" width="3.7" height="131.3" fill="#fff" fill-opacity="0.016"/><rect x="870.7" y="168.1" width="7.3" height="131.3" fill="#000" fill-opacity="0.022"/><rect x="878.0" y="168.1" width="3.7" height="131.3" fill="#fff" fill-opacity="0.007"/><rect x="889.0" y="168.1" width="7.3" height="131.3" fill="#fff" fill-opacity="0.008"/><rect x="896.3" y="168.1" width="11.0" height="131.3" fill="#000" fill-opacity="0.015"/><rect x="911.0" y="168.1" width="3.7" height="131.3" fill="#fff" fill-opacity="0.015"/><rect x="914.6" y="168.1" width="11.0" height="131.3" fill="#fff" fill-opacity="0.013"/><rect x="925.6" y="168.1" width="3.7" height="131.3" fill="#000" fill-opacity="0.020"/><rect x="929.3" y="168.1" width="3.7" height="131.3" fill="#fff" fill-opacity="0.010"/><rect x="933.0" y="168.1" width="7.3" height="131.3" fill="#000" fill-opacity="0.019"/><rect x="940.3" y="168.1" width="3.7" height="131.3" fill="#000" fill-opacity="0.014"/><rect x="955.0" y="168.1" width="3.7" height="131.3" fill="#000" fill-opacity="0.009"/><rect x="958.6" y="168.1" width="7.3" height="131.3" fill="#000" fill-opacity="0.007"/><rect x="965.9" y="168.1" width="3.7" height="131.3" fill="#000" fill-opacity="0.010"/><rect x="969.6" y="168.1" width="3.7" height="131.3" fill="#000" fill-opacity="0.016"/><rect x="973.3" y="168.1" width="3.7" height="131.3" fill="#fff" fill-opacity="0.011"/><rect x="976.9" y="168.1" width="3.7" height="131.3" fill="#000" fill-opacity="0.018"/><rect x="995.3" y="168.1" width="3.7" height="131.3" fill="#000" fill-opacity="0.019"/><rect x="998.9" y="168.1" width="3.7" height="131.3" fill="#000" fill-opacity="0.019"/><rect x="1024.6" y="168.1" width="11.0" height="131.3" fill="#fff" fill-opacity="0.021"/><rect x="79.0" y="299.5" width="7.3" height="65.7" fill="#000" fill-opacity="0.020"/><rect x="108.3" y="299.5" width="7.3" height="65.7" fill="#000" fill-opacity="0.007"/><rect x="115.7" y="299.5" width="3.7" height="65.7" fill="#fff" fill-opacity="0.009"/><rect x="119.3" y="299.5" width="7.3" height="65.7" fill="#fff" fill-opacity="0.019"/><rect x="137.6" y="299.5" width="3.7" height="65.7" fill="#000" fill-opacity="0.011"/><rect x="141.3" y="299.5" width="3.7" height="65.7" fill="#000" fill-opacity="0.014"/><rect x="145.0" y="299.5" width="3.7" height="65.7" fill="#fff" fill-opacity="0.019"/><rect x="148.6" y="299.5" width="7.3" height="65.7" fill="#000" fill-opacity="0.016"/><rect x="181.6" y="299.5" width="7.3" height="65.7" fill="#fff" fill-opacity="0.009"/><rect x="189.0" y="299.5" width="7.3" height="65.7" fill="#fff" fill-opacity="0.012"/><rect x="207.3" y="299.5" width="3.7" height="65.7" fill="#000" fill-opacity="0.015"/><rect x="214.6" y="299.5" width="3.7" height="65.7" fill="#000" fill-opacity="0.016"/><rect x="229.3" y="299.5" width="11.0" height="65.7" fill="#fff" fill-opacity="0.015"/><rect x="240.3" y="299.5" width="11.0" height="65.7" fill="#fff" fill-opacity="0.014"/><rect x="254.9" y="299.5" width="7.3" height="65.7" fill="#000" fill-opacity="0.013"/><rect x="269.6" y="299.5" width="7.3" height="65.7" fill="#fff" fill-opacity="0.007"/><rect x="276.9" y="299.5" width="3.7" height="65.7" fill="#000" fill-opacity="0.013"/><rect x="280.6" y="299.5" width="3.7" height="65.7" fill="#000" fill-opacity="0.008"/><rect x="287.9" y="299.5" width="7.3" height="65.7" fill="#000" fill-opacity="0.018"/><rect x="306.2" y="299.5" width="3.7" height="65.7" fill="#000" fill-opacity="0.007"/><rect x="320.9" y="299.5" width="3.7" height="65.7" fill="#fff" fill-opacity="0.020"/><rect x="350.2" y="299.5" width="3.7" height="65.7" fill="#000" fill-opacity="0.016"/><rect x="353.9" y="299.5" width="7.3" height="65.7" fill="#000" fill-opacity="0.014"/><rect x="372.2" y="299.5" width="3.7" height="65.7" fill="#fff" fill-opacity="0.009"/><rect x="386.9" y="299.5" width="11.0" height="65.7" fill="#000" fill-opacity="0.012"/><rect x="397.9" y="299.5" width="3.7" height="65.7" fill="#000" fill-opacity="0.014"/><rect x="419.9" y="299.5" width="3.7" height="65.7" fill="#000" fill-opacity="0.015"/><rect x="434.5" y="299.5" width="3.7" height="65.7" fill="#fff" fill-opacity="0.012"/><rect x="441.8" y="299.5" width="7.3" height="65.7" fill="#000" fill-opacity="0.016"/><rect x="452.8" y="299.5" width="3.7" height="65.7" fill="#000" fill-opacity="0.021"/><rect x="467.5" y="299.5" width="11.0" height="65.7" fill="#fff" fill-opacity="0.007"/><rect x="493.2" y="299.5" width="3.7" height="65.7" fill="#000" fill-opacity="0.010"/><rect x="496.8" y="299.5" width="3.7" height="65.7" fill="#fff" fill-opacity="0.015"/><rect x="500.5" y="299.5" width="7.3" height="65.7" fill="#000" fill-opacity="0.010"/><rect x="507.8" y="299.5" width="7.3" height="65.7" fill="#000" fill-opacity="0.012"/><rect x="515.1" y="299.5" width="3.7" height="65.7" fill="#fff" fill-opacity="0.021"/><rect x="518.8" y="299.5" width="3.7" height="65.7" fill="#fff" fill-opacity="0.007"/><rect x="540.8" y="299.5" width="3.7" height="65.7" fill="#000" fill-opacity="0.019"/><rect x="566.5" y="299.5" width="3.7" height="65.7" fill="#fff" fill-opacity="0.006"/><rect x="570.1" y="299.5" width="3.7" height="65.7" fill="#fff" fill-opacity="0.010"/><rect x="573.8" y="299.5" width="3.7" height="65.7" fill="#000" fill-opacity="0.015"/><rect x="577.4" y="299.5" width="3.7" height="65.7" fill="#000" fill-opacity="0.014"/><rect x="592.1" y="299.5" width="7.3" height="65.7" fill="#fff" fill-opacity="0.011"/><rect x="647.1" y="299.5" width="7.3" height="65.7" fill="#fff" fill-opacity="0.022"/><rect x="654.4" y="299.5" width="11.0" height="65.7" fill="#000" fill-opacity="0.011"/><rect x="683.7" y="299.5" width="11.0" height="65.7" fill="#000" fill-opacity="0.019"/><rect x="694.7" y="299.5" width="3.7" height="65.7" fill="#000" fill-opacity="0.021"/><rect x="702.1" y="299.5" width="3.7" height="65.7" fill="#000" fill-opacity="0.020"/><rect x="757.0" y="299.5" width="7.3" height="65.7" fill="#000" fill-opacity="0.019"/><rect x="764.4" y="299.5" width="3.7" height="65.7" fill="#000" fill-opacity="0.018"/><rect x="782.7" y="299.5" width="3.7" height="65.7" fill="#fff" fill-opacity="0.006"/><rect x="786.4" y="299.5" width="3.7" height="65.7" fill="#fff" fill-opacity="0.008"/><rect x="790.0" y="299.5" width="3.7" height="65.7" fill="#fff" fill-opacity="0.016"/><rect x="801.0" y="299.5" width="3.7" height="65.7" fill="#000" fill-opacity="0.021"/><rect x="804.7" y="299.5" width="11.0" height="65.7" fill="#000" fill-opacity="0.020"/><rect x="815.7" y="299.5" width="7.3" height="65.7" fill="#fff" fill-opacity="0.009"/><rect x="826.7" y="299.5" width="11.0" height="65.7" fill="#000" fill-opacity="0.018"/><rect x="837.7" y="299.5" width="7.3" height="65.7" fill="#000" fill-opacity="0.008"/><rect x="845.0" y="299.5" width="3.7" height="65.7" fill="#fff" fill-opacity="0.011"/><rect x="848.7" y="299.5" width="3.7" height="65.7" fill="#000" fill-opacity="0.011"/><rect x="870.7" y="299.5" width="3.7" height="65.7" fill="#fff" fill-opacity="0.018"/><rect x="874.3" y="299.5" width="11.0" height="65.7" fill="#000" fill-opacity="0.015"/><rect x="889.0" y="299.5" width="3.7" height="65.7" fill="#fff" fill-opacity="0.006"/><rect x="892.6" y="299.5" width="3.7" height="65.7" fill="#fff" fill-opacity="0.014"/><rect x="900.0" y="299.5" width="7.3" height="65.7" fill="#fff" fill-opacity="0.019"/><rect x="907.3" y="299.5" width="3.7" height="65.7" fill="#000" fill-opacity="0.009"/><rect x="911.0" y="299.5" width="7.3" height="65.7" fill="#000" fill-opacity="0.021"/><rect x="940.3" y="299.5" width="3.7" height="65.7" fill="#000" fill-opacity="0.021"/><rect x="944.0" y="299.5" width="11.0" height="65.7" fill="#fff" fill-opacity="0.020"/><rect x="955.0" y="299.5" width="3.7" height="65.7" fill="#000" fill-opacity="0.013"/><rect x="958.6" y="299.5" width="3.7" height="65.7" fill="#fff" fill-opacity="0.020"/><rect x="962.3" y="299.5" width="7.3" height="65.7" fill="#000" fill-opacity="0.016"/><rect x="980.6" y="299.5" width="7.3" height="65.7" fill="#000" fill-opacity="0.019"/><rect x="987.9" y="299.5" width="11.0" height="65.7" fill="#000" fill-opacity="0.013"/><rect x="1002.6" y="299.5" width="3.7" height="65.7" fill="#000" fill-opacity="0.016"/><rect x="1006.3" y="299.5" width="7.3" height="65.7" fill="#000" fill-opacity="0.011"/><rect x="1013.6" y="299.5" width="7.3" height="65.7" fill="#fff" fill-opacity="0.008"/><rect x="1024.6" y="299.5" width="3.7" height="65.7" fill="#fff" fill-opacity="0.011"/><rect x="79.0" y="365.2" width="3.7" height="394.0" fill="#fff" fill-opacity="0.008"/><rect x="86.3" y="365.2" width="7.3" height="394.0" fill="#000" fill-opacity="0.008"/><rect x="93.7" y="365.2" width="3.7" height="394.0" fill="#fff" fill-opacity="0.012"/><rect x="119.3" y="365.2" width="3.7" height="394.0" fill="#000" fill-opacity="0.008"/><rect x="123.0" y="365.2" width="7.3" height="394.0" fill="#000" fill-opacity="0.010"/><rect x="181.6" y="365.2" width="11.0" height="394.0" fill="#fff" fill-opacity="0.013"/><rect x="192.6" y="365.2" width="11.0" height="394.0" fill="#000" fill-opacity="0.013"/><rect x="214.6" y="365.2" width="3.7" height="394.0" fill="#fff" fill-opacity="0.013"/><rect x="247.6" y="365.2" width="3.7" height="394.0" fill="#fff" fill-opacity="0.015"/><rect x="265.9" y="365.2" width="11.0" height="394.0" fill="#000" fill-opacity="0.006"/><rect x="287.9" y="365.2" width="7.3" height="394.0" fill="#fff" fill-opacity="0.017"/><rect x="298.9" y="365.2" width="7.3" height="394.0" fill="#fff" fill-opacity="0.007"/><rect x="306.2" y="365.2" width="7.3" height="394.0" fill="#000" fill-opacity="0.007"/><rect x="328.2" y="365.2" width="3.7" height="394.0" fill="#000" fill-opacity="0.018"/><rect x="339.2" y="365.2" width="7.3" height="394.0" fill="#000" fill-opacity="0.009"/><rect x="350.2" y="365.2" width="11.0" height="394.0" fill="#000" fill-opacity="0.016"/><rect x="361.2" y="365.2" width="3.7" height="394.0" fill="#000" fill-opacity="0.016"/><rect x="364.9" y="365.2" width="7.3" height="394.0" fill="#000" fill-opacity="0.011"/><rect x="375.9" y="365.2" width="7.3" height="394.0" fill="#fff" fill-opacity="0.020"/><rect x="397.9" y="365.2" width="7.3" height="394.0" fill="#fff" fill-opacity="0.018"/><rect x="408.9" y="365.2" width="3.7" height="394.0" fill="#000" fill-opacity="0.013"/><rect x="427.2" y="365.2" width="7.3" height="394.0" fill="#000" fill-opacity="0.019"/><rect x="449.2" y="365.2" width="11.0" height="394.0" fill="#000" fill-opacity="0.016"/><rect x="460.2" y="365.2" width="3.7" height="394.0" fill="#000" fill-opacity="0.013"/><rect x="467.5" y="365.2" width="7.3" height="394.0" fill="#000" fill-opacity="0.020"/><rect x="485.8" y="365.2" width="3.7" height="394.0" fill="#000" fill-opacity="0.017"/><rect x="511.5" y="365.2" width="7.3" height="394.0" fill="#000" fill-opacity="0.013"/><rect x="518.8" y="365.2" width="7.3" height="394.0" fill="#fff" fill-opacity="0.007"/><rect x="529.8" y="365.2" width="3.7" height="394.0" fill="#000" fill-opacity="0.015"/><rect x="533.5" y="365.2" width="3.7" height="394.0" fill="#000" fill-opacity="0.011"/><rect x="544.5" y="365.2" width="7.3" height="394.0" fill="#000" fill-opacity="0.013"/><rect x="551.8" y="365.2" width="3.7" height="394.0" fill="#000" fill-opacity="0.012"/><rect x="584.8" y="365.2" width="3.7" height="394.0" fill="#000" fill-opacity="0.017"/><rect x="588.4" y="365.2" width="3.7" height="394.0" fill="#fff" fill-opacity="0.017"/><rect x="599.4" y="365.2" width="3.7" height="394.0" fill="#fff" fill-opacity="0.011"/><rect x="606.8" y="365.2" width="3.7" height="394.0" fill="#fff" fill-opacity="0.014"/><rect x="617.8" y="365.2" width="11.0" height="394.0" fill="#fff" fill-opacity="0.008"/><rect x="628.8" y="365.2" width="11.0" height="394.0" fill="#000" fill-opacity="0.015"/><rect x="639.8" y="365.2" width="3.7" height="394.0" fill="#fff" fill-opacity="0.015"/><rect x="643.4" y="365.2" width="7.3" height="394.0" fill="#fff" fill-opacity="0.011"/><rect x="661.7" y="365.2" width="11.0" height="394.0" fill="#000" fill-opacity="0.014"/><rect x="702.1" y="365.2" width="11.0" height="394.0" fill="#000" fill-opacity="0.007"/><rect x="727.7" y="365.2" width="3.7" height="394.0" fill="#000" fill-opacity="0.008"/><rect x="731.4" y="365.2" width="3.7" height="394.0" fill="#000" fill-opacity="0.019"/><rect x="742.4" y="365.2" width="3.7" height="394.0" fill="#fff" fill-opacity="0.007"/><rect x="753.4" y="365.2" width="3.7" height="394.0" fill="#000" fill-opacity="0.014"/><rect x="764.4" y="365.2" width="7.3" height="394.0" fill="#fff" fill-opacity="0.006"/><rect x="797.4" y="365.2" width="7.3" height="394.0" fill="#fff" fill-opacity="0.016"/><rect x="808.3" y="365.2" width="7.3" height="394.0" fill="#fff" fill-opacity="0.017"/><rect x="815.7" y="365.2" width="3.7" height="394.0" fill="#fff" fill-opacity="0.008"/><rect x="823.0" y="365.2" width="3.7" height="394.0" fill="#000" fill-opacity="0.018"/><rect x="845.0" y="365.2" width="3.7" height="394.0" fill="#fff" fill-opacity="0.015"/><rect x="867.0" y="365.2" width="3.7" height="394.0" fill="#000" fill-opacity="0.020"/><rect x="870.7" y="365.2" width="7.3" height="394.0" fill="#000" fill-opacity="0.011"/><rect x="889.0" y="365.2" width="3.7" height="394.0" fill="#fff" fill-opacity="0.015"/><rect x="892.6" y="365.2" width="11.0" height="394.0" fill="#fff" fill-opacity="0.021"/><rect x="903.6" y="365.2" width="11.0" height="394.0" fill="#fff" fill-opacity="0.019"/><rect x="922.0" y="365.2" width="7.3" height="394.0" fill="#000" fill-opacity="0.010"/><rect x="940.3" y="365.2" width="7.3" height="394.0" fill="#000" fill-opacity="0.016"/><rect x="955.0" y="365.2" width="3.7" height="394.0" fill="#000" fill-opacity="0.017"/><rect x="965.9" y="365.2" width="3.7" height="394.0" fill="#000" fill-opacity="0.013"/><rect x="969.6" y="365.2" width="3.7" height="394.0" fill="#000" fill-opacity="0.008"/><rect x="973.3" y="365.2" width="7.3" height="394.0" fill="#000" fill-opacity="0.022"/><rect x="987.9" y="365.2" width="7.3" height="394.0" fill="#000" fill-opacity="0.007"/><rect x="995.3" y="365.2" width="7.3" height="394.0" fill="#000" fill-opacity="0.018"/><rect x="1002.6" y="365.2" width="3.7" height="394.0" fill="#fff" fill-opacity="0.007"/><rect x="1006.3" y="365.2" width="11.0" height="394.0" fill="#000" fill-opacity="0.010"/><rect x="1017.3" y="365.2" width="7.3" height="394.0" fill="#000" fill-opacity="0.007"/><rect x="1024.6" y="365.2" width="3.7" height="394.0" fill="#000" fill-opacity="0.015"/><rect x="1028.3" y="365.2" width="7.3" height="394.0" fill="#fff" fill-opacity="0.014"/><rect x="1035.6" y="365.2" width="3.7" height="394.0" fill="#000" fill-opacity="0.009"/><rect x="1182.3" y="29.5" width="3.7" height="138.6" fill="#fff" fill-opacity="0.014"/><rect x="1189.6" y="29.5" width="7.3" height="138.6" fill="#000" fill-opacity="0.008"/><rect x="1197.0" y="29.5" width="3.7" height="138.6" fill="#fff" fill-opacity="0.016"/><rect x="1208.0" y="29.5" width="3.7" height="138.6" fill="#000" fill-opacity="0.022"/><rect x="1219.0" y="29.5" width="3.7" height="138.6" fill="#fff" fill-opacity="0.018"/><rect x="1240.9" y="29.5" width="3.7" height="138.6" fill="#fff" fill-opacity="0.009"/><rect x="1244.6" y="29.5" width="3.7" height="138.6" fill="#000" fill-opacity="0.012"/><rect x="1259.3" y="29.5" width="11.0" height="138.6" fill="#000" fill-opacity="0.008"/><rect x="1270.3" y="29.5" width="3.7" height="138.6" fill="#fff" fill-opacity="0.010"/><rect x="1284.9" y="29.5" width="3.7" height="138.6" fill="#000" fill-opacity="0.009"/><rect x="1288.6" y="29.5" width="11.0" height="138.6" fill="#fff" fill-opacity="0.007"/><rect x="1299.6" y="29.5" width="3.7" height="138.6" fill="#fff" fill-opacity="0.015"/><rect x="1303.2" y="29.5" width="3.7" height="138.6" fill="#000" fill-opacity="0.014"/><rect x="1306.9" y="29.5" width="7.3" height="138.6" fill="#000" fill-opacity="0.008"/><rect x="1328.9" y="29.5" width="3.7" height="138.6" fill="#fff" fill-opacity="0.012"/><rect x="1332.6" y="29.5" width="3.7" height="138.6" fill="#fff" fill-opacity="0.009"/><rect x="1339.9" y="29.5" width="3.7" height="138.6" fill="#000" fill-opacity="0.021"/><rect x="1347.2" y="29.5" width="3.7" height="138.6" fill="#fff" fill-opacity="0.016"/><rect x="1350.9" y="29.5" width="11.0" height="138.6" fill="#fff" fill-opacity="0.013"/><rect x="1369.2" y="29.5" width="11.0" height="138.6" fill="#fff" fill-opacity="0.022"/><rect x="1380.2" y="29.5" width="3.7" height="138.6" fill="#fff" fill-opacity="0.016"/><rect x="1405.9" y="29.5" width="3.7" height="138.6" fill="#fff" fill-opacity="0.010"/><rect x="1420.5" y="29.5" width="3.7" height="138.6" fill="#000" fill-opacity="0.011"/><rect x="1424.2" y="29.5" width="3.7" height="138.6" fill="#000" fill-opacity="0.014"/><rect x="1438.9" y="29.5" width="7.3" height="138.6" fill="#fff" fill-opacity="0.011"/><rect x="1186.0" y="168.1" width="3.7" height="131.3" fill="#fff" fill-opacity="0.013"/><rect x="1204.3" y="168.1" width="3.7" height="131.3" fill="#000" fill-opacity="0.014"/><rect x="1208.0" y="168.1" width="7.3" height="131.3" fill="#000" fill-opacity="0.019"/><rect x="1215.3" y="168.1" width="3.7" height="131.3" fill="#fff" fill-opacity="0.007"/><rect x="1233.6" y="168.1" width="11.0" height="131.3" fill="#000" fill-opacity="0.016"/><rect x="1251.9" y="168.1" width="3.7" height="131.3" fill="#000" fill-opacity="0.008"/><rect x="1266.6" y="168.1" width="7.3" height="131.3" fill="#000" fill-opacity="0.006"/><rect x="1273.9" y="168.1" width="7.3" height="131.3" fill="#fff" fill-opacity="0.018"/><rect x="1281.3" y="168.1" width="3.7" height="131.3" fill="#000" fill-opacity="0.019"/><rect x="1284.9" y="168.1" width="7.3" height="131.3" fill="#000" fill-opacity="0.013"/><rect x="1295.9" y="168.1" width="3.7" height="131.3" fill="#000" fill-opacity="0.015"/><rect x="1299.6" y="168.1" width="3.7" height="131.3" fill="#000" fill-opacity="0.012"/><rect x="1303.2" y="168.1" width="3.7" height="131.3" fill="#000" fill-opacity="0.021"/><rect x="1306.9" y="168.1" width="3.7" height="131.3" fill="#000" fill-opacity="0.017"/><rect x="1321.6" y="168.1" width="3.7" height="131.3" fill="#000" fill-opacity="0.008"/><rect x="1339.9" y="168.1" width="3.7" height="131.3" fill="#fff" fill-opacity="0.021"/><rect x="1343.6" y="168.1" width="3.7" height="131.3" fill="#000" fill-opacity="0.011"/><rect x="1347.2" y="168.1" width="3.7" height="131.3" fill="#000" fill-opacity="0.021"/><rect x="1350.9" y="168.1" width="3.7" height="131.3" fill="#000" fill-opacity="0.016"/><rect x="1354.6" y="168.1" width="7.3" height="131.3" fill="#fff" fill-opacity="0.013"/><rect x="1365.6" y="168.1" width="3.7" height="131.3" fill="#000" fill-opacity="0.013"/><rect x="1369.2" y="168.1" width="3.7" height="131.3" fill="#000" fill-opacity="0.008"/><rect x="1380.2" y="168.1" width="3.7" height="131.3" fill="#000" fill-opacity="0.015"/><rect x="1405.9" y="168.1" width="7.3" height="131.3" fill="#fff" fill-opacity="0.022"/><rect x="1413.2" y="168.1" width="3.7" height="131.3" fill="#fff" fill-opacity="0.010"/><rect x="1435.2" y="168.1" width="7.3" height="131.3" fill="#000" fill-opacity="0.014"/><rect x="1442.5" y="168.1" width="3.7" height="131.3" fill="#000" fill-opacity="0.013"/><rect x="1446.2" y="168.1" width="3.7" height="131.3" fill="#fff" fill-opacity="0.009"/><rect x="1182.3" y="299.5" width="3.7" height="65.7" fill="#fff" fill-opacity="0.013"/><rect x="1193.3" y="299.5" width="3.7" height="65.7" fill="#fff" fill-opacity="0.016"/><rect x="1222.6" y="299.5" width="3.7" height="65.7" fill="#fff" fill-opacity="0.006"/><rect x="1226.3" y="299.5" width="3.7" height="65.7" fill="#000" fill-opacity="0.011"/><rect x="1229.9" y="299.5" width="3.7" height="65.7" fill="#000" fill-opacity="0.021"/><rect x="1233.6" y="299.5" width="3.7" height="65.7" fill="#000" fill-opacity="0.015"/><rect x="1237.3" y="299.5" width="7.3" height="65.7" fill="#fff" fill-opacity="0.008"/><rect x="1251.9" y="299.5" width="3.7" height="65.7" fill="#000" fill-opacity="0.007"/><rect x="1262.9" y="299.5" width="7.3" height="65.7" fill="#000" fill-opacity="0.012"/><rect x="1270.3" y="299.5" width="3.7" height="65.7" fill="#000" fill-opacity="0.015"/><rect x="1281.3" y="299.5" width="3.7" height="65.7" fill="#000" fill-opacity="0.010"/><rect x="1292.3" y="299.5" width="7.3" height="65.7" fill="#000" fill-opacity="0.012"/><rect x="1299.6" y="299.5" width="3.7" height="65.7" fill="#fff" fill-opacity="0.011"/><rect x="1303.2" y="299.5" width="3.7" height="65.7" fill="#fff" fill-opacity="0.018"/><rect x="1310.6" y="299.5" width="3.7" height="65.7" fill="#fff" fill-opacity="0.007"/><rect x="1314.2" y="299.5" width="7.3" height="65.7" fill="#000" fill-opacity="0.018"/><rect x="1332.6" y="299.5" width="3.7" height="65.7" fill="#fff" fill-opacity="0.017"/><rect x="1343.6" y="299.5" width="7.3" height="65.7" fill="#000" fill-opacity="0.020"/><rect x="1350.9" y="299.5" width="7.3" height="65.7" fill="#000" fill-opacity="0.016"/><rect x="1358.2" y="299.5" width="11.0" height="65.7" fill="#fff" fill-opacity="0.020"/><rect x="1376.5" y="299.5" width="7.3" height="65.7" fill="#fff" fill-opacity="0.022"/><rect x="1387.5" y="299.5" width="7.3" height="65.7" fill="#000" fill-opacity="0.020"/><rect x="1398.5" y="299.5" width="3.7" height="65.7" fill="#000" fill-opacity="0.014"/><rect x="1402.2" y="299.5" width="11.0" height="65.7" fill="#000" fill-opacity="0.019"/><rect x="1413.2" y="299.5" width="7.3" height="65.7" fill="#000" fill-opacity="0.011"/><rect x="1420.5" y="299.5" width="3.7" height="65.7" fill="#fff" fill-opacity="0.012"/><rect x="1424.2" y="299.5" width="3.7" height="65.7" fill="#000" fill-opacity="0.019"/><rect x="1427.9" y="299.5" width="3.7" height="65.7" fill="#000" fill-opacity="0.013"/><rect x="1431.5" y="299.5" width="3.7" height="65.7" fill="#000" fill-opacity="0.010"/><rect x="1182.3" y="365.2" width="7.3" height="394.0" fill="#000" fill-opacity="0.012"/><rect x="1189.6" y="365.2" width="3.7" height="394.0" fill="#fff" fill-opacity="0.006"/><rect x="1193.3" y="365.2" width="3.7" height="394.0" fill="#fff" fill-opacity="0.012"/><rect x="1208.0" y="365.2" width="7.3" height="394.0" fill="#000" fill-opacity="0.013"/><rect x="1215.3" y="365.2" width="7.3" height="394.0" fill="#000" fill-opacity="0.014"/><rect x="1222.6" y="365.2" width="3.7" height="394.0" fill="#fff" fill-opacity="0.012"/><rect x="1251.9" y="365.2" width="7.3" height="394.0" fill="#000" fill-opacity="0.014"/><rect x="1259.3" y="365.2" width="3.7" height="394.0" fill="#000" fill-opacity="0.007"/><rect x="1262.9" y="365.2" width="3.7" height="394.0" fill="#000" fill-opacity="0.022"/><rect x="1277.6" y="365.2" width="7.3" height="394.0" fill="#000" fill-opacity="0.011"/><rect x="1284.9" y="365.2" width="7.3" height="394.0" fill="#fff" fill-opacity="0.006"/><rect x="1317.9" y="365.2" width="7.3" height="394.0" fill="#fff" fill-opacity="0.016"/><rect x="1332.6" y="365.2" width="3.7" height="394.0" fill="#000" fill-opacity="0.007"/><rect x="1343.6" y="365.2" width="7.3" height="394.0" fill="#000" fill-opacity="0.019"/><rect x="1361.9" y="365.2" width="3.7" height="394.0" fill="#fff" fill-opacity="0.010"/><rect x="1365.6" y="365.2" width="3.7" height="394.0" fill="#000" fill-opacity="0.008"/><rect x="1369.2" y="365.2" width="7.3" height="394.0" fill="#000" fill-opacity="0.009"/><rect x="1376.5" y="365.2" width="3.7" height="394.0" fill="#000" fill-opacity="0.020"/><rect x="1380.2" y="365.2" width="3.7" height="394.0" fill="#fff" fill-opacity="0.016"/><rect x="1383.9" y="365.2" width="3.7" height="394.0" fill="#fff" fill-opacity="0.015"/><rect x="1391.2" y="365.2" width="7.3" height="394.0" fill="#000" fill-opacity="0.016"/><rect x="1405.9" y="365.2" width="3.7" height="394.0" fill="#000" fill-opacity="0.012"/><rect x="1409.5" y="365.2" width="3.7" height="394.0" fill="#000" fill-opacity="0.012"/><rect x="1416.9" y="365.2" width="3.7" height="394.0" fill="#fff" fill-opacity="0.009"/><rect x="1424.2" y="365.2" width="3.7" height="394.0" fill="#fff" fill-opacity="0.012"/><rect x="1427.9" y="365.2" width="7.3" height="394.0" fill="#000" fill-opacity="0.016"/><rect x="1446.2" y="365.2" width="7.3" height="394.0" fill="#fff" fill-opacity="0.011"/><rect x="1607.0" y="29.5" width="3.7" height="138.6" fill="#000" fill-opacity="0.006"/><rect x="1614.3" y="29.5" width="3.7" height="138.6" fill="#000" fill-opacity="0.015"/><rect x="1618.0" y="29.5" width="7.3" height="138.6" fill="#000" fill-opacity="0.019"/><rect x="1625.3" y="29.5" width="3.7" height="138.6" fill="#fff" fill-opacity="0.009"/><rect x="1640.0" y="29.5" width="3.7" height="138.6" fill="#fff" fill-opacity="0.014"/><rect x="1676.6" y="29.5" width="7.3" height="138.6" fill="#fff" fill-opacity="0.016"/><rect x="1695.0" y="29.5" width="7.3" height="138.6" fill="#fff" fill-opacity="0.017"/><rect x="1702.3" y="29.5" width="3.7" height="138.6" fill="#fff" fill-opacity="0.007"/><rect x="1706.0" y="29.5" width="3.7" height="138.6" fill="#fff" fill-opacity="0.017"/><rect x="1724.3" y="29.5" width="3.7" height="138.6" fill="#fff" fill-opacity="0.011"/><rect x="1731.6" y="29.5" width="7.3" height="138.6" fill="#000" fill-opacity="0.012"/><rect x="1753.6" y="29.5" width="3.7" height="138.6" fill="#000" fill-opacity="0.017"/><rect x="1764.6" y="29.5" width="11.0" height="138.6" fill="#fff" fill-opacity="0.022"/><rect x="1775.6" y="29.5" width="11.0" height="138.6" fill="#fff" fill-opacity="0.011"/><rect x="1804.9" y="29.5" width="7.3" height="138.6" fill="#fff" fill-opacity="0.009"/><rect x="1812.2" y="29.5" width="3.7" height="138.6" fill="#000" fill-opacity="0.018"/><rect x="1852.6" y="29.5" width="7.3" height="138.6" fill="#000" fill-opacity="0.006"/><rect x="1859.9" y="29.5" width="11.0" height="138.6" fill="#000" fill-opacity="0.007"/><rect x="1892.9" y="29.5" width="3.7" height="138.6" fill="#000" fill-opacity="0.018"/><rect x="1911.2" y="29.5" width="7.3" height="138.6" fill="#000" fill-opacity="0.011"/><rect x="1940.5" y="29.5" width="7.3" height="138.6" fill="#fff" fill-opacity="0.017"/><rect x="1955.2" y="29.5" width="3.7" height="138.6" fill="#000" fill-opacity="0.009"/><rect x="1958.8" y="29.5" width="7.3" height="138.6" fill="#000" fill-opacity="0.015"/><rect x="1966.2" y="29.5" width="11.0" height="138.6" fill="#000" fill-opacity="0.010"/><rect x="1977.2" y="29.5" width="3.7" height="138.6" fill="#fff" fill-opacity="0.013"/><rect x="1980.8" y="29.5" width="3.7" height="138.6" fill="#fff" fill-opacity="0.017"/><rect x="1984.5" y="29.5" width="7.3" height="138.6" fill="#000" fill-opacity="0.010"/><rect x="1991.8" y="29.5" width="7.3" height="138.6" fill="#000" fill-opacity="0.016"/><rect x="2006.5" y="29.5" width="3.7" height="138.6" fill="#000" fill-opacity="0.019"/><rect x="2035.8" y="29.5" width="3.7" height="138.6" fill="#fff" fill-opacity="0.009"/><rect x="2039.5" y="29.5" width="3.7" height="138.6" fill="#fff" fill-opacity="0.008"/><rect x="2043.1" y="29.5" width="3.7" height="138.6" fill="#000" fill-opacity="0.013"/><rect x="2046.8" y="29.5" width="3.7" height="138.6" fill="#fff" fill-opacity="0.007"/><rect x="2050.5" y="29.5" width="7.3" height="138.6" fill="#000" fill-opacity="0.017"/><rect x="2057.8" y="29.5" width="7.3" height="138.6" fill="#000" fill-opacity="0.016"/><rect x="2065.1" y="29.5" width="7.3" height="138.6" fill="#fff" fill-opacity="0.015"/><rect x="2101.8" y="29.5" width="3.7" height="138.6" fill="#000" fill-opacity="0.006"/><rect x="2105.4" y="29.5" width="3.7" height="138.6" fill="#000" fill-opacity="0.009"/><rect x="2109.1" y="29.5" width="11.0" height="138.6" fill="#000" fill-opacity="0.019"/><rect x="2131.1" y="29.5" width="7.3" height="138.6" fill="#fff" fill-opacity="0.019"/><rect x="2138.4" y="29.5" width="3.7" height="138.6" fill="#000" fill-opacity="0.021"/><rect x="2142.1" y="29.5" width="3.7" height="138.6" fill="#000" fill-opacity="0.007"/><rect x="2156.8" y="29.5" width="11.0" height="138.6" fill="#fff" fill-opacity="0.007"/><rect x="2167.8" y="29.5" width="7.3" height="138.6" fill="#fff" fill-opacity="0.009"/><rect x="2186.1" y="29.5" width="3.7" height="138.6" fill="#fff" fill-opacity="0.016"/><rect x="2193.4" y="29.5" width="7.3" height="138.6" fill="#fff" fill-opacity="0.018"/><rect x="2208.1" y="29.5" width="7.3" height="138.6" fill="#000" fill-opacity="0.011"/><rect x="2222.7" y="29.5" width="3.7" height="138.6" fill="#000" fill-opacity="0.006"/><rect x="2230.1" y="29.5" width="3.7" height="138.6" fill="#000" fill-opacity="0.006"/><rect x="2233.7" y="29.5" width="11.0" height="138.6" fill="#fff" fill-opacity="0.009"/><rect x="2274.0" y="29.5" width="7.3" height="138.6" fill="#000" fill-opacity="0.019"/><rect x="2303.4" y="29.5" width="3.7" height="138.6" fill="#000" fill-opacity="0.011"/><rect x="2329.0" y="29.5" width="7.3" height="138.6" fill="#fff" fill-opacity="0.010"/><rect x="2336.3" y="29.5" width="3.7" height="138.6" fill="#000" fill-opacity="0.009"/><rect x="2369.3" y="29.5" width="11.0" height="138.6" fill="#000" fill-opacity="0.014"/><rect x="2384.0" y="29.5" width="11.0" height="138.6" fill="#000" fill-opacity="0.013"/><rect x="2435.3" y="29.5" width="3.7" height="138.6" fill="#fff" fill-opacity="0.018"/><rect x="2439.0" y="29.5" width="3.7" height="138.6" fill="#000" fill-opacity="0.007"/><rect x="2442.6" y="29.5" width="3.7" height="138.6" fill="#fff" fill-opacity="0.008"/><rect x="2464.6" y="29.5" width="3.7" height="138.6" fill="#000" fill-opacity="0.019"/><rect x="2479.3" y="29.5" width="3.7" height="138.6" fill="#000" fill-opacity="0.012"/><rect x="2490.3" y="29.5" width="3.7" height="138.6" fill="#000" fill-opacity="0.015"/><rect x="2493.9" y="29.5" width="3.7" height="138.6" fill="#fff" fill-opacity="0.021"/><rect x="2497.6" y="29.5" width="3.7" height="138.6" fill="#000" fill-opacity="0.013"/><rect x="2501.3" y="29.5" width="7.3" height="138.6" fill="#fff" fill-opacity="0.019"/><rect x="2512.3" y="29.5" width="3.7" height="138.6" fill="#000" fill-opacity="0.021"/><rect x="2515.9" y="29.5" width="11.0" height="138.6" fill="#000" fill-opacity="0.008"/><rect x="2537.9" y="29.5" width="3.7" height="138.6" fill="#fff" fill-opacity="0.022"/><rect x="2548.9" y="29.5" width="3.7" height="138.6" fill="#000" fill-opacity="0.016"/><rect x="2552.6" y="29.5" width="7.3" height="138.6" fill="#fff" fill-opacity="0.014"/><rect x="2559.9" y="29.5" width="7.3" height="138.6" fill="#000" fill-opacity="0.020"/><rect x="2567.2" y="29.5" width="3.7" height="138.6" fill="#fff" fill-opacity="0.014"/><rect x="2574.6" y="29.5" width="3.7" height="138.6" fill="#000" fill-opacity="0.019"/><rect x="2589.2" y="29.5" width="3.7" height="138.6" fill="#fff" fill-opacity="0.015"/><rect x="2592.9" y="29.5" width="3.7" height="138.6" fill="#000" fill-opacity="0.020"/><rect x="2596.6" y="29.5" width="8.2" height="138.6" fill="#fff" fill-opacity="0.017"/><rect x="1607.0" y="168.1" width="3.7" height="131.3" fill="#fff" fill-opacity="0.022"/><rect x="1636.3" y="168.1" width="11.0" height="131.3" fill="#000" fill-opacity="0.019"/><rect x="1669.3" y="168.1" width="3.7" height="131.3" fill="#fff" fill-opacity="0.015"/><rect x="1676.6" y="168.1" width="11.0" height="131.3" fill="#fff" fill-opacity="0.022"/><rect x="1695.0" y="168.1" width="3.7" height="131.3" fill="#000" fill-opacity="0.006"/><rect x="1698.6" y="168.1" width="7.3" height="131.3" fill="#000" fill-opacity="0.012"/><rect x="1709.6" y="168.1" width="3.7" height="131.3" fill="#000" fill-opacity="0.011"/><rect x="1720.6" y="168.1" width="3.7" height="131.3" fill="#000" fill-opacity="0.009"/><rect x="1724.3" y="168.1" width="7.3" height="131.3" fill="#000" fill-opacity="0.015"/><rect x="1735.3" y="168.1" width="11.0" height="131.3" fill="#fff" fill-opacity="0.020"/><rect x="1746.3" y="168.1" width="7.3" height="131.3" fill="#000" fill-opacity="0.009"/><rect x="1753.6" y="168.1" width="7.3" height="131.3" fill="#fff" fill-opacity="0.009"/><rect x="1760.9" y="168.1" width="11.0" height="131.3" fill="#fff" fill-opacity="0.007"/><rect x="1771.9" y="168.1" width="7.3" height="131.3" fill="#fff" fill-opacity="0.014"/><rect x="1786.6" y="168.1" width="3.7" height="131.3" fill="#000" fill-opacity="0.019"/><rect x="1790.3" y="168.1" width="11.0" height="131.3" fill="#000" fill-opacity="0.009"/><rect x="1804.9" y="168.1" width="3.7" height="131.3" fill="#000" fill-opacity="0.011"/><rect x="1808.6" y="168.1" width="11.0" height="131.3" fill="#000" fill-opacity="0.016"/><rect x="1819.6" y="168.1" width="3.7" height="131.3" fill="#fff" fill-opacity="0.013"/><rect x="1841.6" y="168.1" width="7.3" height="131.3" fill="#fff" fill-opacity="0.013"/><rect x="1852.6" y="168.1" width="3.7" height="131.3" fill="#000" fill-opacity="0.016"/><rect x="1856.2" y="168.1" width="3.7" height="131.3" fill="#fff" fill-opacity="0.006"/><rect x="1867.2" y="168.1" width="3.7" height="131.3" fill="#fff" fill-opacity="0.012"/><rect x="1881.9" y="168.1" width="7.3" height="131.3" fill="#000" fill-opacity="0.022"/><rect x="1903.9" y="168.1" width="11.0" height="131.3" fill="#000" fill-opacity="0.018"/><rect x="1925.9" y="168.1" width="3.7" height="131.3" fill="#fff" fill-opacity="0.006"/><rect x="1940.5" y="168.1" width="3.7" height="131.3" fill="#fff" fill-opacity="0.016"/><rect x="1947.9" y="168.1" width="7.3" height="131.3" fill="#000" fill-opacity="0.007"/><rect x="1980.8" y="168.1" width="3.7" height="131.3" fill="#fff" fill-opacity="0.020"/><rect x="1988.2" y="168.1" width="7.3" height="131.3" fill="#000" fill-opacity="0.011"/><rect x="1999.2" y="168.1" width="3.7" height="131.3" fill="#fff" fill-opacity="0.016"/><rect x="2002.8" y="168.1" width="3.7" height="131.3" fill="#fff" fill-opacity="0.015"/><rect x="2024.8" y="168.1" width="3.7" height="131.3" fill="#fff" fill-opacity="0.010"/><rect x="2028.5" y="168.1" width="3.7" height="131.3" fill="#fff" fill-opacity="0.011"/><rect x="2032.1" y="168.1" width="3.7" height="131.3" fill="#fff" fill-opacity="0.022"/><rect x="2057.8" y="168.1" width="3.7" height="131.3" fill="#000" fill-opacity="0.006"/><rect x="2061.5" y="168.1" width="3.7" height="131.3" fill="#000" fill-opacity="0.017"/><rect x="2065.1" y="168.1" width="7.3" height="131.3" fill="#000" fill-opacity="0.007"/><rect x="2072.5" y="168.1" width="11.0" height="131.3" fill="#000" fill-opacity="0.018"/><rect x="2083.5" y="168.1" width="3.7" height="131.3" fill="#000" fill-opacity="0.008"/><rect x="2087.1" y="168.1" width="11.0" height="131.3" fill="#000" fill-opacity="0.008"/><rect x="2098.1" y="168.1" width="3.7" height="131.3" fill="#000" fill-opacity="0.011"/><rect x="2101.8" y="168.1" width="3.7" height="131.3" fill="#000" fill-opacity="0.009"/><rect x="2105.4" y="168.1" width="3.7" height="131.3" fill="#000" fill-opacity="0.016"/><rect x="2123.8" y="168.1" width="11.0" height="131.3" fill="#000" fill-opacity="0.008"/><rect x="2134.8" y="168.1" width="7.3" height="131.3" fill="#fff" fill-opacity="0.008"/><rect x="2142.1" y="168.1" width="3.7" height="131.3" fill="#000" fill-opacity="0.008"/><rect x="2149.4" y="168.1" width="3.7" height="131.3" fill="#fff" fill-opacity="0.017"/><rect x="2175.1" y="168.1" width="3.7" height="131.3" fill="#000" fill-opacity="0.009"/><rect x="2186.1" y="168.1" width="3.7" height="131.3" fill="#fff" fill-opacity="0.007"/><rect x="2189.7" y="168.1" width="7.3" height="131.3" fill="#000" fill-opacity="0.019"/><rect x="2197.1" y="168.1" width="3.7" height="131.3" fill="#000" fill-opacity="0.017"/><rect x="2200.7" y="168.1" width="7.3" height="131.3" fill="#fff" fill-opacity="0.011"/><rect x="2219.1" y="168.1" width="7.3" height="131.3" fill="#fff" fill-opacity="0.015"/><rect x="2226.4" y="168.1" width="3.7" height="131.3" fill="#fff" fill-opacity="0.012"/><rect x="2233.7" y="168.1" width="11.0" height="131.3" fill="#000" fill-opacity="0.016"/><rect x="2248.4" y="168.1" width="11.0" height="131.3" fill="#fff" fill-opacity="0.010"/><rect x="2259.4" y="168.1" width="3.7" height="131.3" fill="#fff" fill-opacity="0.016"/><rect x="2263.0" y="168.1" width="11.0" height="131.3" fill="#fff" fill-opacity="0.017"/><rect x="2274.0" y="168.1" width="11.0" height="131.3" fill="#fff" fill-opacity="0.017"/><rect x="2285.0" y="168.1" width="7.3" height="131.3" fill="#000" fill-opacity="0.018"/><rect x="2292.4" y="168.1" width="7.3" height="131.3" fill="#fff" fill-opacity="0.015"/><rect x="2310.7" y="168.1" width="7.3" height="131.3" fill="#000" fill-opacity="0.007"/><rect x="2373.0" y="168.1" width="3.7" height="131.3" fill="#fff" fill-opacity="0.018"/><rect x="2380.3" y="168.1" width="3.7" height="131.3" fill="#000" fill-opacity="0.009"/><rect x="2384.0" y="168.1" width="7.3" height="131.3" fill="#000" fill-opacity="0.021"/><rect x="2402.3" y="168.1" width="3.7" height="131.3" fill="#000" fill-opacity="0.012"/><rect x="2406.0" y="168.1" width="7.3" height="131.3" fill="#fff" fill-opacity="0.008"/><rect x="2413.3" y="168.1" width="3.7" height="131.3" fill="#000" fill-opacity="0.017"/><rect x="2417.0" y="168.1" width="3.7" height="131.3" fill="#fff" fill-opacity="0.007"/><rect x="2446.3" y="168.1" width="7.3" height="131.3" fill="#fff" fill-opacity="0.017"/><rect x="2461.0" y="168.1" width="7.3" height="131.3" fill="#fff" fill-opacity="0.011"/><rect x="2486.6" y="168.1" width="3.7" height="131.3" fill="#fff" fill-opacity="0.019"/><rect x="2490.3" y="168.1" width="11.0" height="131.3" fill="#fff" fill-opacity="0.007"/><rect x="2508.6" y="168.1" width="11.0" height="131.3" fill="#000" fill-opacity="0.012"/><rect x="2530.6" y="168.1" width="3.7" height="131.3" fill="#000" fill-opacity="0.012"/><rect x="2534.3" y="168.1" width="7.3" height="131.3" fill="#000" fill-opacity="0.022"/><rect x="2541.6" y="168.1" width="3.7" height="131.3" fill="#000" fill-opacity="0.009"/><rect x="2548.9" y="168.1" width="7.3" height="131.3" fill="#000" fill-opacity="0.013"/><rect x="2567.2" y="168.1" width="3.7" height="131.3" fill="#000" fill-opacity="0.015"/><rect x="2592.9" y="168.1" width="7.3" height="131.3" fill="#000" fill-opacity="0.008"/><rect x="2603.9" y="168.1" width="0.9" height="131.3" fill="#000" fill-opacity="0.015"/><rect x="1618.0" y="299.5" width="3.7" height="65.7" fill="#000" fill-opacity="0.020"/><rect x="1621.7" y="299.5" width="3.7" height="65.7" fill="#000" fill-opacity="0.007"/><rect x="1625.3" y="299.5" width="7.3" height="65.7" fill="#fff" fill-opacity="0.019"/><rect x="1632.7" y="299.5" width="3.7" height="65.7" fill="#000" fill-opacity="0.007"/><rect x="1651.0" y="299.5" width="3.7" height="65.7" fill="#000" fill-opacity="0.009"/><rect x="1662.0" y="299.5" width="3.7" height="65.7" fill="#000" fill-opacity="0.010"/><rect x="1665.6" y="299.5" width="7.3" height="65.7" fill="#000" fill-opacity="0.020"/><rect x="1673.0" y="299.5" width="3.7" height="65.7" fill="#000" fill-opacity="0.020"/><rect x="1676.6" y="299.5" width="7.3" height="65.7" fill="#fff" fill-opacity="0.009"/><rect x="1713.3" y="299.5" width="3.7" height="65.7" fill="#000" fill-opacity="0.021"/><rect x="1731.6" y="299.5" width="3.7" height="65.7" fill="#fff" fill-opacity="0.010"/><rect x="1753.6" y="299.5" width="7.3" height="65.7" fill="#fff" fill-opacity="0.009"/><rect x="1760.9" y="299.5" width="11.0" height="65.7" fill="#000" fill-opacity="0.008"/><rect x="1771.9" y="299.5" width="7.3" height="65.7" fill="#000" fill-opacity="0.006"/><rect x="1790.3" y="299.5" width="7.3" height="65.7" fill="#000" fill-opacity="0.018"/><rect x="1801.2" y="299.5" width="3.7" height="65.7" fill="#fff" fill-opacity="0.021"/><rect x="1804.9" y="299.5" width="3.7" height="65.7" fill="#fff" fill-opacity="0.009"/><rect x="1808.6" y="299.5" width="3.7" height="65.7" fill="#fff" fill-opacity="0.017"/><rect x="1823.2" y="299.5" width="11.0" height="65.7" fill="#fff" fill-opacity="0.009"/><rect x="1841.6" y="299.5" width="11.0" height="65.7" fill="#fff" fill-opacity="0.021"/><rect x="1852.6" y="299.5" width="3.7" height="65.7" fill="#000" fill-opacity="0.019"/><rect x="1863.6" y="299.5" width="3.7" height="65.7" fill="#fff" fill-opacity="0.016"/><rect x="1874.6" y="299.5" width="3.7" height="65.7" fill="#fff" fill-opacity="0.018"/><rect x="1878.2" y="299.5" width="11.0" height="65.7" fill="#fff" fill-opacity="0.007"/><rect x="1911.2" y="299.5" width="7.3" height="65.7" fill="#fff" fill-opacity="0.014"/><rect x="1925.9" y="299.5" width="3.7" height="65.7" fill="#fff" fill-opacity="0.010"/><rect x="1936.9" y="299.5" width="3.7" height="65.7" fill="#000" fill-opacity="0.014"/><rect x="1944.2" y="299.5" width="3.7" height="65.7" fill="#000" fill-opacity="0.016"/><rect x="1947.9" y="299.5" width="3.7" height="65.7" fill="#fff" fill-opacity="0.008"/><rect x="1951.5" y="299.5" width="3.7" height="65.7" fill="#fff" fill-opacity="0.013"/><rect x="1955.2" y="299.5" width="11.0" height="65.7" fill="#000" fill-opacity="0.008"/><rect x="1969.8" y="299.5" width="7.3" height="65.7" fill="#000" fill-opacity="0.015"/><rect x="1977.2" y="299.5" width="7.3" height="65.7" fill="#fff" fill-opacity="0.007"/><rect x="1984.5" y="299.5" width="7.3" height="65.7" fill="#fff" fill-opacity="0.016"/><rect x="1999.2" y="299.5" width="3.7" height="65.7" fill="#fff" fill-opacity="0.017"/><rect x="2006.5" y="299.5" width="3.7" height="65.7" fill="#000" fill-opacity="0.019"/><rect x="2010.2" y="299.5" width="7.3" height="65.7" fill="#fff" fill-opacity="0.010"/><rect x="2017.5" y="299.5" width="3.7" height="65.7" fill="#000" fill-opacity="0.014"/><rect x="2021.2" y="299.5" width="3.7" height="65.7" fill="#000" fill-opacity="0.010"/><rect x="2032.1" y="299.5" width="3.7" height="65.7" fill="#fff" fill-opacity="0.009"/><rect x="2046.8" y="299.5" width="3.7" height="65.7" fill="#fff" fill-opacity="0.021"/><rect x="2079.8" y="299.5" width="3.7" height="65.7" fill="#fff" fill-opacity="0.016"/><rect x="2094.5" y="299.5" width="3.7" height="65.7" fill="#000" fill-opacity="0.016"/><rect x="2109.1" y="299.5" width="3.7" height="65.7" fill="#fff" fill-opacity="0.011"/><rect x="2116.4" y="299.5" width="11.0" height="65.7" fill="#fff" fill-opacity="0.011"/><rect x="2134.8" y="299.5" width="3.7" height="65.7" fill="#fff" fill-opacity="0.021"/><rect x="2138.4" y="299.5" width="7.3" height="65.7" fill="#fff" fill-opacity="0.019"/><rect x="2156.8" y="299.5" width="3.7" height="65.7" fill="#000" fill-opacity="0.021"/><rect x="2175.1" y="299.5" width="7.3" height="65.7" fill="#fff" fill-opacity="0.014"/><rect x="2186.1" y="299.5" width="11.0" height="65.7" fill="#fff" fill-opacity="0.020"/><rect x="2215.4" y="299.5" width="11.0" height="65.7" fill="#000" fill-opacity="0.010"/><rect x="2230.1" y="299.5" width="11.0" height="65.7" fill="#000" fill-opacity="0.019"/><rect x="2241.1" y="299.5" width="3.7" height="65.7" fill="#000" fill-opacity="0.019"/><rect x="2244.7" y="299.5" width="7.3" height="65.7" fill="#000" fill-opacity="0.021"/><rect x="2252.1" y="299.5" width="11.0" height="65.7" fill="#000" fill-opacity="0.021"/><rect x="2266.7" y="299.5" width="3.7" height="65.7" fill="#000" fill-opacity="0.015"/><rect x="2288.7" y="299.5" width="3.7" height="65.7" fill="#000" fill-opacity="0.019"/><rect x="2329.0" y="299.5" width="3.7" height="65.7" fill="#000" fill-opacity="0.016"/><rect x="2332.7" y="299.5" width="7.3" height="65.7" fill="#fff" fill-opacity="0.016"/><rect x="2343.7" y="299.5" width="3.7" height="65.7" fill="#000" fill-opacity="0.020"/><rect x="2347.3" y="299.5" width="3.7" height="65.7" fill="#fff" fill-opacity="0.022"/><rect x="2351.0" y="299.5" width="7.3" height="65.7" fill="#fff" fill-opacity="0.015"/><rect x="2362.0" y="299.5" width="3.7" height="65.7" fill="#fff" fill-opacity="0.020"/><rect x="2369.3" y="299.5" width="3.7" height="65.7" fill="#000" fill-opacity="0.012"/><rect x="2373.0" y="299.5" width="7.3" height="65.7" fill="#000" fill-opacity="0.011"/><rect x="2380.3" y="299.5" width="7.3" height="65.7" fill="#fff" fill-opacity="0.019"/><rect x="2387.7" y="299.5" width="7.3" height="65.7" fill="#fff" fill-opacity="0.020"/><rect x="2395.0" y="299.5" width="3.7" height="65.7" fill="#fff" fill-opacity="0.019"/><rect x="2428.0" y="299.5" width="3.7" height="65.7" fill="#fff" fill-opacity="0.021"/><rect x="2442.6" y="299.5" width="11.0" height="65.7" fill="#000" fill-opacity="0.014"/><rect x="2453.6" y="299.5" width="11.0" height="65.7" fill="#000" fill-opacity="0.012"/><rect x="2468.3" y="299.5" width="11.0" height="65.7" fill="#fff" fill-opacity="0.012"/><rect x="2497.6" y="299.5" width="7.3" height="65.7" fill="#fff" fill-opacity="0.011"/><rect x="2504.9" y="299.5" width="3.7" height="65.7" fill="#000" fill-opacity="0.015"/><rect x="2541.6" y="299.5" width="3.7" height="65.7" fill="#000" fill-opacity="0.022"/><rect x="2563.6" y="299.5" width="11.0" height="65.7" fill="#fff" fill-opacity="0.020"/><rect x="2574.6" y="299.5" width="7.3" height="65.7" fill="#000" fill-opacity="0.007"/><rect x="2581.9" y="299.5" width="3.7" height="65.7" fill="#fff" fill-opacity="0.019"/><rect x="1607.0" y="365.2" width="3.7" height="394.0" fill="#fff" fill-opacity="0.020"/><rect x="1610.7" y="365.2" width="7.3" height="394.0" fill="#fff" fill-opacity="0.013"/><rect x="1618.0" y="365.2" width="3.7" height="394.0" fill="#000" fill-opacity="0.011"/><rect x="1621.7" y="365.2" width="7.3" height="394.0" fill="#000" fill-opacity="0.009"/><rect x="1643.7" y="365.2" width="3.7" height="394.0" fill="#000" fill-opacity="0.010"/><rect x="1658.3" y="365.2" width="11.0" height="394.0" fill="#fff" fill-opacity="0.007"/><rect x="1687.6" y="365.2" width="11.0" height="394.0" fill="#fff" fill-opacity="0.013"/><rect x="1706.0" y="365.2" width="7.3" height="394.0" fill="#fff" fill-opacity="0.016"/><rect x="1717.0" y="365.2" width="7.3" height="394.0" fill="#000" fill-opacity="0.016"/><rect x="1724.3" y="365.2" width="11.0" height="394.0" fill="#000" fill-opacity="0.011"/><rect x="1746.3" y="365.2" width="11.0" height="394.0" fill="#000" fill-opacity="0.012"/><rect x="1768.3" y="365.2" width="7.3" height="394.0" fill="#fff" fill-opacity="0.019"/><rect x="1782.9" y="365.2" width="7.3" height="394.0" fill="#fff" fill-opacity="0.021"/><rect x="1790.3" y="365.2" width="3.7" height="394.0" fill="#fff" fill-opacity="0.007"/><rect x="1793.9" y="365.2" width="7.3" height="394.0" fill="#fff" fill-opacity="0.015"/><rect x="1801.2" y="365.2" width="7.3" height="394.0" fill="#fff" fill-opacity="0.015"/><rect x="1819.6" y="365.2" width="3.7" height="394.0" fill="#000" fill-opacity="0.017"/><rect x="1823.2" y="365.2" width="7.3" height="394.0" fill="#fff" fill-opacity="0.011"/><rect x="1830.6" y="365.2" width="11.0" height="394.0" fill="#000" fill-opacity="0.011"/><rect x="1841.6" y="365.2" width="11.0" height="394.0" fill="#000" fill-opacity="0.020"/><rect x="1859.9" y="365.2" width="7.3" height="394.0" fill="#fff" fill-opacity="0.009"/><rect x="1867.2" y="365.2" width="3.7" height="394.0" fill="#000" fill-opacity="0.015"/><rect x="1870.9" y="365.2" width="3.7" height="394.0" fill="#fff" fill-opacity="0.017"/><rect x="1874.6" y="365.2" width="3.7" height="394.0" fill="#000" fill-opacity="0.013"/><rect x="1878.2" y="365.2" width="7.3" height="394.0" fill="#fff" fill-opacity="0.007"/><rect x="1892.9" y="365.2" width="3.7" height="394.0" fill="#fff" fill-opacity="0.019"/><rect x="1896.5" y="365.2" width="3.7" height="394.0" fill="#000" fill-opacity="0.021"/><rect x="1911.2" y="365.2" width="3.7" height="394.0" fill="#000" fill-opacity="0.022"/><rect x="1914.9" y="365.2" width="11.0" height="394.0" fill="#fff" fill-opacity="0.018"/><rect x="1925.9" y="365.2" width="7.3" height="394.0" fill="#000" fill-opacity="0.012"/><rect x="1936.9" y="365.2" width="7.3" height="394.0" fill="#000" fill-opacity="0.012"/><rect x="1944.2" y="365.2" width="7.3" height="394.0" fill="#000" fill-opacity="0.020"/><rect x="1958.8" y="365.2" width="3.7" height="394.0" fill="#fff" fill-opacity="0.014"/><rect x="1980.8" y="365.2" width="3.7" height="394.0" fill="#fff" fill-opacity="0.009"/><rect x="1991.8" y="365.2" width="7.3" height="394.0" fill="#000" fill-opacity="0.018"/><rect x="1999.2" y="365.2" width="11.0" height="394.0" fill="#000" fill-opacity="0.010"/><rect x="2039.5" y="365.2" width="3.7" height="394.0" fill="#fff" fill-opacity="0.009"/><rect x="2065.1" y="365.2" width="7.3" height="394.0" fill="#000" fill-opacity="0.009"/><rect x="2072.5" y="365.2" width="3.7" height="394.0" fill="#fff" fill-opacity="0.007"/><rect x="2076.1" y="365.2" width="3.7" height="394.0" fill="#000" fill-opacity="0.006"/><rect x="2079.8" y="365.2" width="3.7" height="394.0" fill="#fff" fill-opacity="0.020"/><rect x="2083.5" y="365.2" width="7.3" height="394.0" fill="#fff" fill-opacity="0.007"/><rect x="2090.8" y="365.2" width="3.7" height="394.0" fill="#fff" fill-opacity="0.019"/><rect x="2101.8" y="365.2" width="3.7" height="394.0" fill="#000" fill-opacity="0.017"/><rect x="2109.1" y="365.2" width="7.3" height="394.0" fill="#fff" fill-opacity="0.018"/><rect x="2116.4" y="365.2" width="7.3" height="394.0" fill="#fff" fill-opacity="0.006"/><rect x="2131.1" y="365.2" width="3.7" height="394.0" fill="#000" fill-opacity="0.019"/><rect x="2153.1" y="365.2" width="3.7" height="394.0" fill="#fff" fill-opacity="0.015"/><rect x="2167.8" y="365.2" width="3.7" height="394.0" fill="#fff" fill-opacity="0.020"/><rect x="2171.4" y="365.2" width="3.7" height="394.0" fill="#000" fill-opacity="0.020"/><rect x="2175.1" y="365.2" width="7.3" height="394.0" fill="#000" fill-opacity="0.015"/><rect x="2197.1" y="365.2" width="11.0" height="394.0" fill="#fff" fill-opacity="0.014"/><rect x="2241.1" y="365.2" width="7.3" height="394.0" fill="#000" fill-opacity="0.017"/><rect x="2248.4" y="365.2" width="3.7" height="394.0" fill="#000" fill-opacity="0.015"/><rect x="2266.7" y="365.2" width="3.7" height="394.0" fill="#000" fill-opacity="0.022"/><rect x="2270.4" y="365.2" width="3.7" height="394.0" fill="#000" fill-opacity="0.012"/><rect x="2292.4" y="365.2" width="7.3" height="394.0" fill="#fff" fill-opacity="0.008"/><rect x="2303.4" y="365.2" width="11.0" height="394.0" fill="#000" fill-opacity="0.008"/><rect x="2332.7" y="365.2" width="3.7" height="394.0" fill="#000" fill-opacity="0.006"/><rect x="2347.3" y="365.2" width="7.3" height="394.0" fill="#000" fill-opacity="0.007"/><rect x="2354.7" y="365.2" width="3.7" height="394.0" fill="#000" fill-opacity="0.017"/><rect x="2358.3" y="365.2" width="3.7" height="394.0" fill="#000" fill-opacity="0.019"/><rect x="2362.0" y="365.2" width="7.3" height="394.0" fill="#000" fill-opacity="0.017"/><rect x="2369.3" y="365.2" width="11.0" height="394.0" fill="#000" fill-opacity="0.008"/><rect x="2387.7" y="365.2" width="11.0" height="394.0" fill="#000" fill-opacity="0.018"/><rect x="2398.7" y="365.2" width="3.7" height="394.0" fill="#fff" fill-opacity="0.010"/><rect x="2402.3" y="365.2" width="3.7" height="394.0" fill="#000" fill-opacity="0.016"/><rect x="2406.0" y="365.2" width="3.7" height="394.0" fill="#fff" fill-opacity="0.007"/><rect x="2475.6" y="365.2" width="3.7" height="394.0" fill="#fff" fill-opacity="0.021"/><rect x="2479.3" y="365.2" width="11.0" height="394.0" fill="#000" fill-opacity="0.019"/><rect x="2490.3" y="365.2" width="3.7" height="394.0" fill="#fff" fill-opacity="0.008"/><rect x="2512.3" y="365.2" width="3.7" height="394.0" fill="#fff" fill-opacity="0.010"/><rect x="2515.9" y="365.2" width="3.7" height="394.0" fill="#fff" fill-opacity="0.015"/><rect x="2519.6" y="365.2" width="3.7" height="394.0" fill="#fff" fill-opacity="0.018"/><rect x="2526.9" y="365.2" width="7.3" height="394.0" fill="#000" fill-opacity="0.007"/><rect x="2541.6" y="365.2" width="3.7" height="394.0" fill="#fff" fill-opacity="0.008"/><rect x="2578.2" y="365.2" width="11.0" height="394.0" fill="#fff" fill-opacity="0.009"/><rect x="1617.9" y="744.5" width="330" height="14.7" fill="#ff9200"/><path d="M1617.9 759.2V750.9H1622.1V759.2ZM1622.1 759.2V747.0H1626.0V759.2ZM1626.0 759.2V744.7H1640.4V759.2ZM1640.4 759.2V742.7H1643.9V759.2ZM1643.9 759.2V746.6H1648.1V759.2ZM1648.1 759.2V744.7H1659.0V759.2ZM1659.0 759.2V742.7H1666.0V759.2ZM1666.0 759.2V746.6H1669.9V759.2ZM1669.9 759.2V749.3H1673.0V759.2ZM1673.0 759.2V743.1H1676.9V759.2ZM1676.9 759.2V740.8H1687.7V759.2ZM1687.7 759.2V742.7H1695.1V759.2ZM1695.1 759.2V744.7H1699.0V759.2ZM1699.0 759.2V740.8H1703.3V759.2ZM1703.3 759.2V738.8H1706.0V759.2ZM1706.0 759.2V742.7H1713.7V759.2ZM1713.7 759.2V744.7H1717.2V759.2ZM1717.2 759.2V746.6H1721.1V759.2ZM1721.1 759.2V744.7H1725.0V759.2ZM1725.0 759.2V740.8H1732.0V759.2ZM1732.0 759.2V742.7H1735.9V759.2ZM1735.9 759.2V750.5H1739.0V759.2ZM1739.0 759.2V746.6H1742.9V759.2ZM1742.9 759.2V744.7H1750.2V759.2ZM1750.2 759.2V742.7H1754.1V759.2ZM1754.1 759.2V744.7H1757.6V759.2ZM1757.6 759.2V742.7H1761.1V759.2ZM1761.1 759.2V740.8H1768.1V759.2ZM1768.1 759.2V742.7H1776.2V759.2ZM1776.2 759.2V744.7H1779.3V759.2ZM1779.3 759.2V742.7H1783.2V759.2ZM1783.2 759.2V744.7H1787.1V759.2ZM1787.1 759.2V742.7H1790.2V759.2ZM1790.2 759.2V740.8H1800.0V759.2ZM1800.0 759.2V742.7H1816.3V759.2ZM1816.3 759.2V744.7H1820.2V759.2ZM1820.2 759.2V740.8H1827.2V759.2ZM1827.2 759.2V742.7H1834.2V759.2ZM1834.2 759.2V746.6H1838.0V759.2ZM1838.0 759.2V744.7H1841.9V759.2ZM1841.9 759.2V742.7H1859.8V759.2ZM1859.8 759.2V744.7H1866.8V759.2ZM1866.8 759.2V742.7H1870.7V759.2ZM1874.5 759.2V744.7H1878.0V759.2ZM1897.0 759.2V753.2H1900.2V759.2ZM1903.6 759.2V736.1H1907.5V759.2ZM1907.5 759.2V742.7H1918.8V759.2ZM1918.8 759.2V740.8H1925.8V759.2ZM1925.8 759.2V744.7H1929.7V759.2ZM1929.7 759.2V742.7H1943.6V759.2Z" fill="#ff8c00"/><path d="M1617.9 759.2V754.2H1622.1V759.2ZM1622.1 759.2V750.3H1626.0V759.2ZM1626.0 759.2V748.0H1640.4V759.2ZM1640.4 759.2V746.0H1643.9V759.2ZM1643.9 759.2V749.9H1648.1V759.2ZM1648.1 759.2V748.0H1659.0V759.2ZM1659.0 759.2V746.0H1666.0V759.2ZM1666.0 759.2V749.9H1669.9V759.2ZM1669.9 759.2V752.6H1673.0V759.2ZM1673.0 759.2V746.4H1676.9V759.2ZM1676.9 759.2V744.1H1687.7V759.2ZM1687.7 759.2V746.0H1695.1V759.2ZM1695.1 759.2V748.0H1699.0V759.2ZM1699.0 759.2V744.1H1703.3V759.2ZM1703.3 759.2V742.1H1706.0V759.2ZM1706.0 759.2V746.0H1713.7V759.2ZM1713.7 759.2V748.0H1717.2V759.2ZM1717.2 759.2V749.9H1721.1V759.2ZM1721.1 759.2V748.0H1725.0V759.2ZM1725.0 759.2V744.1H1732.0V759.2ZM1732.0 759.2V746.0H1735.9V759.2ZM1735.9 759.2V753.8H1739.0V759.2ZM1739.0 759.2V749.9H1742.9V759.2ZM1742.9 759.2V748.0H1750.2V759.2ZM1750.2 759.2V746.0H1754.1V759.2ZM1754.1 759.2V748.0H1757.6V759.2ZM1757.6 759.2V746.0H1761.1V759.2ZM1761.1 759.2V744.1H1768.1V759.2ZM1768.1 759.2V746.0H1776.2V759.2ZM1776.2 759.2V748.0H1779.3V759.2ZM1779.3 759.2V746.0H1783.2V759.2ZM1783.2 759.2V748.0H1787.1V759.2ZM1787.1 759.2V746.0H1790.2V759.2ZM1790.2 759.2V744.1H1800.0V759.2ZM1800.0 759.2V746.0H1816.3V759.2ZM1816.3 759.2V748.0H1820.2V759.2ZM1820.2 759.2V744.1H1827.2V759.2ZM1827.2 759.2V746.0H1834.2V759.2ZM1834.2 759.2V749.9H1838.0V759.2ZM1838.0 759.2V748.0H1841.9V759.2ZM1841.9 759.2V746.0H1859.8V759.2ZM1859.8 759.2V748.0H1866.8V759.2ZM1866.8 759.2V746.0H1870.7V759.2ZM1874.5 759.2V748.0H1878.0V759.2ZM1897.0 759.2V756.5H1900.2V759.2ZM1903.6 759.2V739.4H1907.5V759.2ZM1907.5 759.2V746.0H1918.8V759.2ZM1918.8 759.2V744.1H1925.8V759.2ZM1925.8 759.2V748.0H1929.7V759.2ZM1929.7 759.2V746.0H1943.6V759.2Z" fill="#ff7f00"/><rect x="1900.2" y="560" width="3.5" height="199.2" fill="url(#stk)"/><rect x="1900.2" y="757.6" width="3.4" height="1.6" fill="#e0102a"/><rect x="1947" y="744.5" width="203" height="14.7" fill="url(#fade)"/></g>
<g id="axes"><path d="M72.05 759.35H2711.4500000000003V29.0" fill="none" stroke="#6e726e" stroke-width="1.05"/></g>
<g id="grid" clip-path="url(#axclip)"><line x1="72.50" y1="759.2" x2="72.50" y2="29.5" stroke="#000" stroke-width="1.389" stroke-dasharray="5.14 2.22"/><line x1="292.50" y1="759.2" x2="292.50" y2="29.5" stroke="#000" stroke-width="1.389" stroke-dasharray="5.14 2.22"/><line x1="512.50" y1="759.2" x2="512.50" y2="29.5" stroke="#000" stroke-width="1.389" stroke-dasharray="5.14 2.22"/><line x1="732.50" y1="759.2" x2="732.50" y2="29.5" stroke="#000" stroke-width="1.389" stroke-dasharray="5.14 2.22"/><line x1="952.50" y1="759.2" x2="952.50" y2="29.5" stroke="#000" stroke-width="1.389" stroke-dasharray="5.14 2.22"/><line x1="1172.50" y1="759.2" x2="1172.50" y2="29.5" stroke="#000" stroke-width="1.389" stroke-dasharray="5.14 2.22"/><line x1="1391.50" y1="759.2" x2="1391.50" y2="29.5" stroke="#000" stroke-width="1.389" stroke-dasharray="5.14 2.22"/><line x1="1611.50" y1="759.2" x2="1611.50" y2="29.5" stroke="#000" stroke-width="1.389" stroke-dasharray="5.14 2.22"/><line x1="1831.50" y1="759.2" x2="1831.50" y2="29.5" stroke="#000" stroke-width="1.389" stroke-dasharray="5.14 2.22"/><line x1="2051.50" y1="759.2" x2="2051.50" y2="29.5" stroke="#000" stroke-width="1.389" stroke-dasharray="5.14 2.22"/><line x1="2271.50" y1="759.2" x2="2271.50" y2="29.5" stroke="#000" stroke-width="1.389" stroke-dasharray="5.14 2.22"/><line x1="2491.50" y1="759.2" x2="2491.50" y2="29.5" stroke="#000" stroke-width="1.389" stroke-dasharray="5.14 2.22"/><line x1="72.55" y1="686.50" x2="2711.4" y2="686.50" stroke="#000" stroke-width="1.389" stroke-dasharray="5.14 2.22"/><line x1="72.55" y1="613.50" x2="2711.4" y2="613.50" stroke="#000" stroke-width="1.389" stroke-dasharray="5.14 2.22"/><line x1="72.55" y1="540.50" x2="2711.4" y2="540.50" stroke="#000" stroke-width="1.389" stroke-dasharray="5.14 2.22"/><line x1="72.55" y1="467.50" x2="2711.4" y2="467.50" stroke="#000" stroke-width="1.389" stroke-dasharray="5.14 2.22"/><line x1="72.55" y1="394.50" x2="2711.4" y2="394.50" stroke="#000" stroke-width="1.389" stroke-dasharray="5.14 2.22"/><line x1="72.55" y1="321.50" x2="2711.4" y2="321.50" stroke="#000" stroke-width="1.389" stroke-dasharray="5.14 2.22"/><line x1="72.55" y1="248.50" x2="2711.4" y2="248.50" stroke="#000" stroke-width="1.389" stroke-dasharray="5.14 2.22"/><line x1="72.55" y1="175.50" x2="2711.4" y2="175.50" stroke="#000" stroke-width="1.389" stroke-dasharray="5.14 2.22"/><line x1="72.55" y1="102.50" x2="2711.4" y2="102.50" stroke="#000" stroke-width="1.389" stroke-dasharray="5.14 2.22"/><line x1="72.55" y1="29.50" x2="2711.4" y2="29.50" stroke="#000" stroke-width="1.389" stroke-dasharray="5.14 2.22"/><line x1="627.5" y1="759.2" x2="627.5" y2="29.5" stroke="#000" stroke-width="4.86" stroke-dasharray="17.99 7.78"/><line x1="1955.5" y1="759.2" x2="1955.5" y2="29.5" stroke="#000" stroke-width="4.86" stroke-dasharray="17.99 7.78"/></g>
<g id="ticks" class="tx"><line x1="72.50" y1="759.2" x2="72.50" y2="761.4000000000001" stroke="#000" stroke-width="1"/><text x="68.10 84.90" y="784.7" font-family="DejaVu Sans, Liberation Sans, sans-serif" font-size="26.47" xml:space="preserve">00</text><line x1="292.50" y1="759.2" x2="292.50" y2="761.4000000000001" stroke="#000" stroke-width="1"/><text x="275.70 292.50" y="784.7" font-family="DejaVu Sans, Liberation Sans, sans-serif" font-size="26.47" xml:space="preserve">02</text><line x1="512.50" y1="759.2" x2="512.50" y2="761.4000000000001" stroke="#000" stroke-width="1"/><text x="495.70 512.50" y="784.7" font-family="DejaVu Sans, Liberation Sans, sans-serif" font-size="26.47" xml:space="preserve">04</text><line x1="732.50" y1="759.2" x2="732.50" y2="761.4000000000001" stroke="#000" stroke-width="1"/><text x="715.70 732.50" y="784.7" font-family="DejaVu Sans, Liberation Sans, sans-serif" font-size="26.47" xml:space="preserve">06</text><line x1="952.50" y1="759.2" x2="952.50" y2="761.4000000000001" stroke="#000" stroke-width="1"/><text x="935.70 952.50" y="784.7" font-family="DejaVu Sans, Liberation Sans, sans-serif" font-size="26.47" xml:space="preserve">08</text><line x1="1172.50" y1="759.2" x2="1172.50" y2="761.4000000000001" stroke="#000" stroke-width="1"/><text x="1155.70 1172.50" y="784.7" font-family="DejaVu Sans, Liberation Sans, sans-serif" font-size="26.47" xml:space="preserve">10</text><line x1="1391.50" y1="759.2" x2="1391.50" y2="761.4000000000001" stroke="#000" stroke-width="1"/><text x="1374.70 1391.50" y="784.7" font-family="DejaVu Sans, Liberation Sans, sans-serif" font-size="26.47" xml:space="preserve">12</text><line x1="1611.50" y1="759.2" x2="1611.50" y2="761.4000000000001" stroke="#000" stroke-width="1"/><text x="1594.70 1611.50" y="784.7" font-family="DejaVu Sans, Liberation Sans, sans-serif" font-size="26.47" xml:space="preserve">14</text><line x1="1831.50" y1="759.2" x2="1831.50" y2="761.4000000000001" stroke="#000" stroke-width="1"/><text x="1814.70 1831.50" y="784.7" font-family="DejaVu Sans, Liberation Sans, sans-serif" font-size="26.47" xml:space="preserve">16</text><line x1="2051.50" y1="759.2" x2="2051.50" y2="761.4000000000001" stroke="#000" stroke-width="1"/><text x="2034.70 2051.50" y="784.7" font-family="DejaVu Sans, Liberation Sans, sans-serif" font-size="26.47" xml:space="preserve">18</text><line x1="2271.50" y1="759.2" x2="2271.50" y2="761.4000000000001" stroke="#000" stroke-width="1"/><text x="2254.70 2271.50" y="784.7" font-family="DejaVu Sans, Liberation Sans, sans-serif" font-size="26.47" xml:space="preserve">20</text><line x1="2491.50" y1="759.2" x2="2491.50" y2="761.4000000000001" stroke="#000" stroke-width="1"/><text x="2474.70 2491.50" y="784.7" font-family="DejaVu Sans, Liberation Sans, sans-serif" font-size="26.47" xml:space="preserve">22</text><line x1="2711.50" y1="759.2" x2="2711.50" y2="761.4000000000001" stroke="#000" stroke-width="1"/><text x="2694.70 2711.50" y="784.7" font-family="DejaVu Sans, Liberation Sans, sans-serif" font-size="26.47" xml:space="preserve">24</text><line x1="70.35" y1="759.20" x2="72.55" y2="759.20" stroke="#000" stroke-width="1"/><text x="50.50" y="769.10" font-family="DejaVu Sans, Liberation Sans, sans-serif" font-size="26.47" xml:space="preserve">0</text><line x1="70.35" y1="686.23" x2="72.55" y2="686.23" stroke="#000" stroke-width="1"/><text x="50.50" y="696.13" font-family="DejaVu Sans, Liberation Sans, sans-serif" font-size="26.47" xml:space="preserve">1</text><line x1="70.35" y1="613.26" x2="72.55" y2="613.26" stroke="#000" stroke-width="1"/><text x="50.50" y="623.16" font-family="DejaVu Sans, Liberation Sans, sans-serif" font-size="26.47" xml:space="preserve">2</text><line x1="70.35" y1="540.29" x2="72.55" y2="540.29" stroke="#000" stroke-width="1"/><text x="50.50" y="550.19" font-family="DejaVu Sans, Liberation Sans, sans-serif" font-size="26.47" xml:space="preserve">3</text><line x1="70.35" y1="467.32" x2="72.55" y2="467.32" stroke="#000" stroke-width="1"/><text x="50.50" y="477.22" font-family="DejaVu Sans, Liberation Sans, sans-serif" font-size="26.47" xml:space="preserve">4</text><line x1="70.35" y1="394.35" x2="72.55" y2="394.35" stroke="#000" stroke-width="1"/><text x="50.50" y="404.25" font-family="DejaVu Sans, Liberation Sans, sans-serif" font-size="26.47" xml:space="preserve">5</text><line x1="70.35" y1="321.38" x2="72.55" y2="321.38" stroke="#000" stroke-width="1"/><text x="50.50" y="331.28" font-family="DejaVu Sans, Liberation Sans, sans-serif" font-size="26.47" xml:space="preserve">6</text><line x1="70.35" y1="248.41" x2="72.55" y2="248.41" stroke="#000" stroke-width="1"/><text x="50.50" y="258.31" font-family="DejaVu Sans, Liberation Sans, sans-serif" font-size="26.47" xml:space="preserve">7</text><line x1="70.35" y1="175.44" x2="72.55" y2="175.44" stroke="#000" stroke-width="1"/><text x="50.50" y="185.34" font-family="DejaVu Sans, Liberation Sans, sans-serif" font-size="26.47" xml:space="preserve">8</text><line x1="70.35" y1="102.47" x2="72.55" y2="102.47" stroke="#000" stroke-width="1"/><text x="50.50" y="112.37" font-family="DejaVu Sans, Liberation Sans, sans-serif" font-size="26.47" xml:space="preserve">9</text><line x1="70.35" y1="29.50" x2="72.55" y2="29.50" stroke="#000" stroke-width="1"/><text x="33.70 50.50" y="39.40" font-family="DejaVu Sans, Liberation Sans, sans-serif" font-size="26.47" xml:space="preserve">10</text></g>
<g id="labels" class="tx"><text x="579.30 593.09 609.89 626.69 637.60 645.00 658.79" y="803.7" font-family="DejaVu Sans, Liberation Sans, sans-serif" font-size="26.47" xml:space="preserve">sunrise</text><text x="1911.40 1925.19 1941.99 1958.79 1972.58 1988.88" y="803.7" font-family="DejaVu Sans, Liberation Sans, sans-serif" font-size="26.47" xml:space="preserve">sunset</text><text x="1318.40 1333.82 1341.22 1367.05 1383.34 1391.74 1402.03 1421.33 1436.00 1454.43" y="813.9" font-family="DejaVu Sans, Liberation Sans, sans-serif" font-size="26.47" xml:space="preserve">Time [UTC]</text><g transform="translate(24,570.1) rotate(-90)"><text x="0.00 19.93 36.23 43.63 60.43 77.23 87.64 96.04 112.21 129.01 145.31 160.98 177.28 185.68 202.48 212.76 229.06 245.86 262.66 279.46 287.86 298.14 313.44 339.26" y="0" font-family="DejaVu Sans, Liberation Sans, sans-serif" font-size="26.47" xml:space="preserve">Height above ground [km]</text></g><text x="571.00 593.92 610.21 620.60 636.89 653.17 663.44 679.73 687.12 703.40 720.18 727.57 742.23 758.39 765.78 774.17 782.06 798.85 812.63 823.02 830.41 840.81 857.59 867.99 884.27 892.67 908.95 918.35 926.74 941.02 957.80 974.59 996.26 1003.65 1020.43 1029.95 1052.87 1069.03 1084.69 1092.08 1117.88 1125.27 1132.66 1140.05 1156.21 1173.00 1186.78 1196.30 1215.59 1232.37 1239.76 1255.42 1271.70 1282.60 1296.38 1303.77 1314.17 1330.32 1340.72 1349.11 1359.38 1382.31 1399.09 1415.88 1430.53 1447.32 1463.60 1480.39 1488.90 1497.30 1517.84 1534.12 1544.52 1570.32 1586.48 1603.26 1618.92 1627.94 1636.33 1653.12 1669.90 1678.42 1695.21 1711.99 1728.77 1737.17 1756.96 1765.35 1774.24 1782.64 1799.42 1816.21 1824.72 1841.51 1858.29 1875.08 1883.47 1900.13 1910.40 1919.42 1927.81 1936.20 1944.60 1952.99 1972.91 1989.06 1999.46 2014.87 2025.14 2041.42 2050.44 2058.83 2075.62 2092.40 2101.92 2118.71 2135.49 2145.01 2161.80 2178.58 2195.37" y="25.2" font-family="DejaVu Sans, Liberation Sans, sans-serif" font-size="26.47" xml:space="preserve">Meteorological Institute of Ludwig-Maximilians-Universität (München, Germany; 48.148 N / 11.573 E):    HatPro: 24-09-2021</text></g>
<g id="cbar" class="tx"><rect x="2876.4" y="29.5" width="36.20" height="729.70" fill="url(#pcb)" stroke="#444" stroke-width="0.8"/><line x1="2912.6" y1="29.50" x2="2915.6" y2="29.50" stroke="#000" stroke-width="1"/><text x="2917.30 2934.10" y="39.40" font-family="DejaVu Sans, Liberation Sans, sans-serif" font-size="26.47" xml:space="preserve">40</text><line x1="2912.6" y1="162.17" x2="2915.6" y2="162.17" stroke="#000" stroke-width="1"/><text x="2917.30 2934.10" y="172.07" font-family="DejaVu Sans, Liberation Sans, sans-serif" font-size="26.47" xml:space="preserve">20</text><line x1="2912.6" y1="294.85" x2="2915.6" y2="294.85" stroke="#000" stroke-width="1"/><text x="2917.30" y="304.75" font-family="DejaVu Sans, Liberation Sans, sans-serif" font-size="26.47" xml:space="preserve">0</text><line x1="2912.6" y1="427.52" x2="2915.6" y2="427.52" stroke="#000" stroke-width="1"/><text x="2917.30 2939.49 2956.29" y="437.42" font-family="DejaVu Sans, Liberation Sans, sans-serif" font-size="26.47" xml:space="preserve">−20</text><line x1="2912.6" y1="560.19" x2="2915.6" y2="560.19" stroke="#000" stroke-width="1"/><text x="2917.30 2939.49 2956.29" y="570.09" font-family="DejaVu Sans, Liberation Sans, sans-serif" font-size="26.47" xml:space="preserve">−40</text><line x1="2912.6" y1="692.86" x2="2915.6" y2="692.86" stroke="#000" stroke-width="1"/><text x="2917.30 2939.49 2956.29" y="702.76" font-family="DejaVu Sans, Liberation Sans, sans-serif" font-size="26.47" xml:space="preserve">−60</text><g transform="translate(2996.8,519.4) rotate(-90)"><text x="0.00 11.84 28.39 54.62 71.68 88.23 99.31 115.73 126.30 143.36 153.80 170.35 178.88 186.39" y="0" font-family="DejaVu Sans, Liberation Sans, sans-serif" font-size="26.47" xml:space="preserve">Temperature in</text><text x="216.5" y="-6.3" font-family="DejaVu Sans, Liberation Sans, sans-serif" font-size="18.47">°</text><text x="230.2" y="0" font-family="DejaVu Sans, Liberation Sans, sans-serif" font-size="26.47">C</text></g></g>
</svg></body></html>
